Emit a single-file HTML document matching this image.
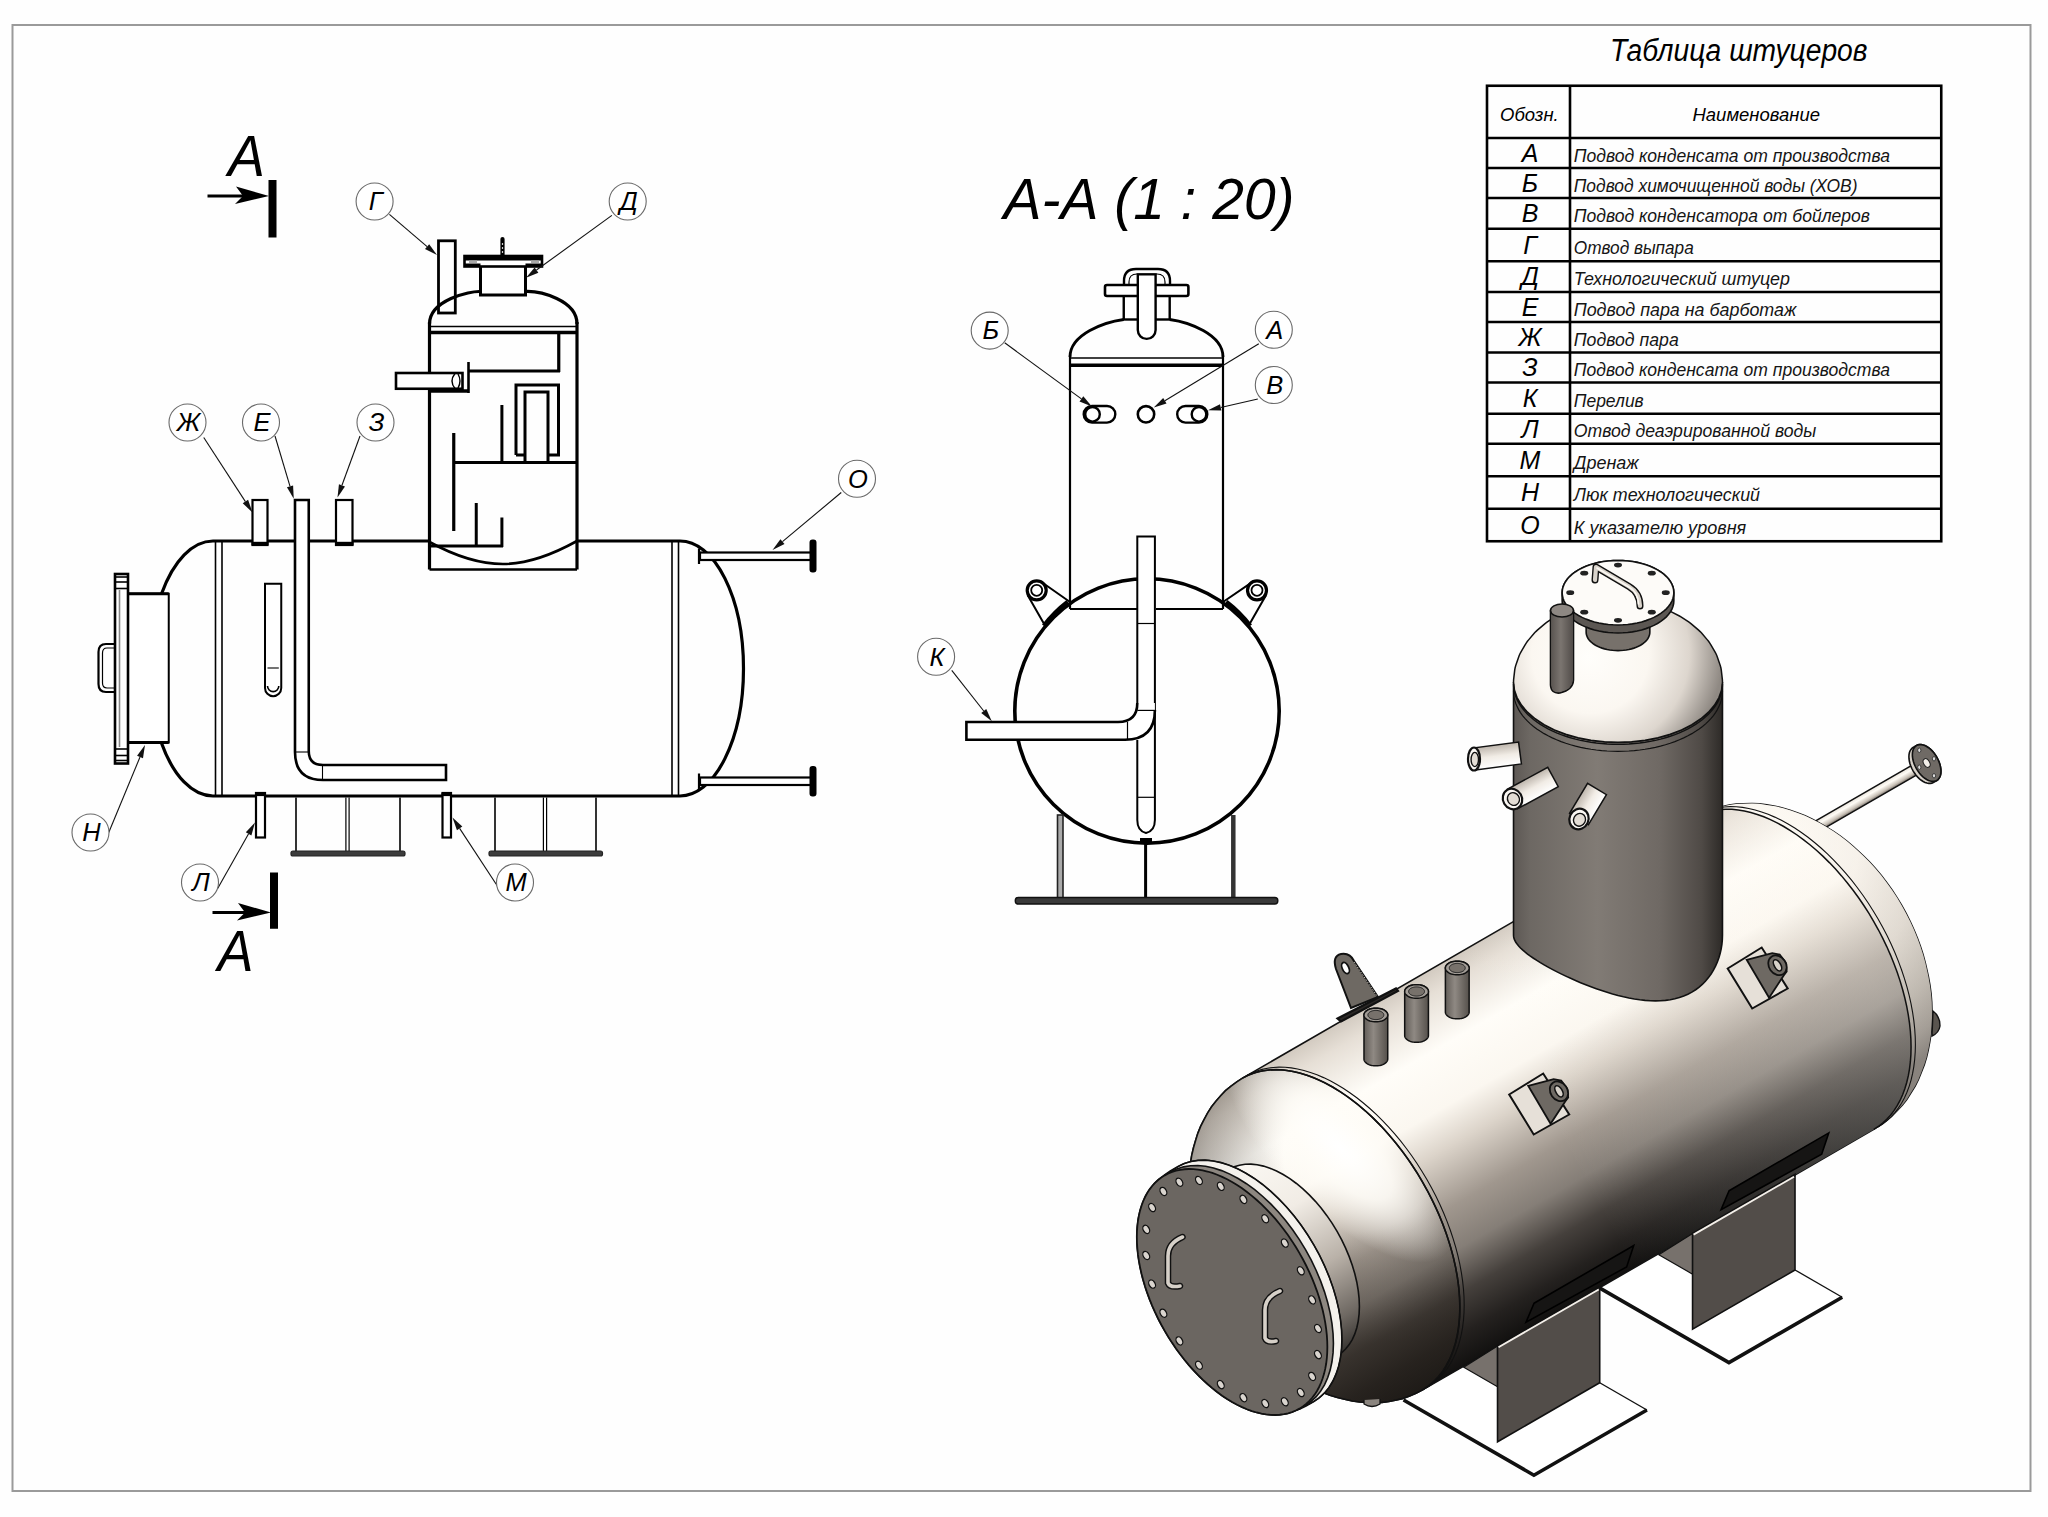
<!DOCTYPE html>
<html><head><meta charset="utf-8"><style>
html,body{margin:0;padding:0;background:#fff;}
svg{display:block;font-family:"Liberation Sans",sans-serif;}
</style></head><body>
<svg width="2048" height="1517" viewBox="0 0 2048 1517">
<rect x="0" y="0" width="2048" height="1517" fill="#fefefe"/>
<defs><linearGradient id="gpipe" gradientUnits="userSpaceOnUse" x1="1869.44" y1="789.91" x2="1874.74" y2="799.09"><stop offset="0" stop-color="#e9e4dc"/><stop offset="0.35" stop-color="#fffcf6"/><stop offset="0.75" stop-color="#c9c1b7"/><stop offset="1" stop-color="#756e67"/></linearGradient><linearGradient id="gv" gradientUnits="userSpaceOnUse" x1="1470.32" y1="946.62" x2="1650.32" y2="1258.38"><stop offset="0" stop-color="#d2cac0"/><stop offset="0.06" stop-color="#e6dfd6"/><stop offset="0.2" stop-color="#fffdf8"/><stop offset="0.35" stop-color="#fbf7f0"/><stop offset="0.45" stop-color="#dcd4ca"/><stop offset="0.6" stop-color="#a0978e"/><stop offset="0.71" stop-color="#857e77"/><stop offset="0.82" stop-color="#45403c"/><stop offset="0.92" stop-color="#24211f"/><stop offset="1" stop-color="#121110"/></linearGradient><radialGradient id="gfh" gradientUnits="userSpaceOnUse" cx="0" cy="0" r="1" gradientTransform="translate(1340 1148) rotate(45) scale(150 62)"><stop offset="0" stop-color="#fff" stop-opacity="1"/><stop offset="0.45" stop-color="#fffdf8" stop-opacity="0.85"/><stop offset="1" stop-color="#fffdf8" stop-opacity="0"/></radialGradient><radialGradient id="gfd" gradientUnits="userSpaceOnUse" cx="1360" cy="1155" r="190"><stop offset="0" stop-color="#2a241e" stop-opacity="0"/><stop offset="0.4" stop-color="#2a241e" stop-opacity="0"/><stop offset="0.8" stop-color="#2a241e" stop-opacity="0.3"/><stop offset="1" stop-color="#2a241e" stop-opacity="0.5"/></radialGradient><radialGradient id="gbh" gradientUnits="userSpaceOnUse" cx="1765" cy="845" r="265" ><stop offset="0" stop-color="#fffdf8"/><stop offset="0.35" stop-color="#f3eee7"/><stop offset="0.6" stop-color="#d3ccc3"/><stop offset="0.8" stop-color="#a39c93"/><stop offset="0.92" stop-color="#7d766f"/><stop offset="1" stop-color="#58524d"/></radialGradient><linearGradient id="gu" gradientUnits="userSpaceOnUse" x1="1543" y1="1112.5" x2="1846.11" y2="937.5"><stop offset="0" stop-color="#fffaf2" stop-opacity="0"/><stop offset="1" stop-color="#fffaf2" stop-opacity="0.3"/></linearGradient><linearGradient id="gc" gradientUnits="userSpaceOnUse" x1="1513.53" y1="0" x2="1722.47" y2="0"><stop offset="0" stop-color="#5d5854"/><stop offset="0.08" stop-color="#6d6863"/><stop offset="0.4" stop-color="#817b75"/><stop offset="0.7" stop-color="#6f6964"/><stop offset="0.9" stop-color="#4f4a46"/><stop offset="1" stop-color="#2d2a27"/></linearGradient><radialGradient id="gd" gradientUnits="userSpaceOnUse" cx="1593" cy="652" r="130" fx="1588" fy="657" ><stop offset="0" stop-color="#fffefb"/><stop offset="0.45" stop-color="#fbf7f1"/><stop offset="0.75" stop-color="#ddd6ce"/><stop offset="1" stop-color="#8f8983"/></radialGradient><linearGradient id="gg" gradientUnits="userSpaceOnUse" x1="1550" y1="0" x2="1574" y2="0"><stop offset="0" stop-color="#56514d"/><stop offset="0.45" stop-color="#7b7570"/><stop offset="1" stop-color="#4e4946"/></linearGradient><linearGradient id="gn1474" gradientUnits="userSpaceOnUse" x1="1475.42" y1="769.91" x2="1472.58" y2="748.09"><stop offset="0" stop-color="#ffffff"/><stop offset="0.5" stop-color="#f1ece5"/><stop offset="1" stop-color="#bdb5ac"/></linearGradient><linearGradient id="gn1512" gradientUnits="userSpaceOnUse" x1="1517.75" y1="808.67" x2="1507.25" y2="789.33"><stop offset="0" stop-color="#ffffff"/><stop offset="0.5" stop-color="#f1ece5"/><stop offset="1" stop-color="#bdb5ac"/></linearGradient><linearGradient id="gn1579" gradientUnits="userSpaceOnUse" x1="1588.43" y1="824.66" x2="1569.57" y2="813.34"><stop offset="0" stop-color="#ffffff"/><stop offset="0.5" stop-color="#f1ece5"/><stop offset="1" stop-color="#bdb5ac"/></linearGradient><linearGradient id="gtn587" gradientUnits="userSpaceOnUse" x1="1363.86" y1="0" x2="1387.86" y2="0"><stop offset="0" stop-color="#625d58"/><stop offset="0.4" stop-color="#8f8983"/><stop offset="1" stop-color="#55504b"/></linearGradient><linearGradient id="gtn634" gradientUnits="userSpaceOnUse" x1="1404.56" y1="0" x2="1428.56" y2="0"><stop offset="0" stop-color="#625d58"/><stop offset="0.4" stop-color="#8f8983"/><stop offset="1" stop-color="#55504b"/></linearGradient><linearGradient id="gtn681" gradientUnits="userSpaceOnUse" x1="1445.26" y1="0" x2="1469.26" y2="0"><stop offset="0" stop-color="#625d58"/><stop offset="0.4" stop-color="#8f8983"/><stop offset="1" stop-color="#55504b"/></linearGradient><linearGradient id="gneck" gradientUnits="userSpaceOnUse" x1="1210.87" y1="1177.24" x2="1320.87" y2="1367.76"><stop offset="0" stop-color="#fbf8f3"/><stop offset="0.3" stop-color="#f1ece5"/><stop offset="0.6" stop-color="#b9b1a8"/><stop offset="0.85" stop-color="#6e6862"/><stop offset="1" stop-color="#33302d"/></linearGradient></defs>
<rect x="12.5" y="25" width="2018" height="1466" stroke="#9a9a9a" stroke-width="2" fill="none" />
<line x1="213" y1="541" x2="429.5" y2="541" stroke="#000" stroke-width="3.2" />
<line x1="577" y1="541" x2="680" y2="541" stroke="#000" stroke-width="3.2" />
<line x1="213" y1="796" x2="680" y2="796" stroke="#000" stroke-width="3.2" />
<path d="M213,541 A63.5,127.5 0 0 0 161.65,593.5" stroke="#000" stroke-width="3.2" fill="none" />
<path d="M161.47,743 A63.5,127.5 0 0 0 213,796" stroke="#000" stroke-width="3.2" fill="none" />
<path d="M680,541 A63.5,127.5 0 0 1 680,796" stroke="#000" stroke-width="3.2" fill="none" />
<line x1="215.5" y1="541" x2="215.5" y2="796" stroke="#000" stroke-width="1.6" />
<line x1="222" y1="541" x2="222" y2="796" stroke="#000" stroke-width="1.6" />
<line x1="672" y1="541" x2="672" y2="796" stroke="#000" stroke-width="1.6" />
<line x1="678.5" y1="541" x2="678.5" y2="796" stroke="#000" stroke-width="1.6" />
<rect x="700" y="552.5" width="112" height="7.5" stroke="#000" stroke-width="2.2" fill="#fff" />
<rect x="811" y="541" width="4" height="30" stroke="#000" stroke-width="3" fill="#000" rx="1.5"/>
<line x1="699" y1="548.5" x2="699" y2="564" stroke="#000" stroke-width="2.2" />
<rect x="700" y="777.5" width="112" height="7.5" stroke="#000" stroke-width="2.2" fill="#fff" />
<rect x="811" y="767.5" width="4" height="27.5" stroke="#000" stroke-width="3" fill="#000" rx="1.5"/>
<line x1="699" y1="773.5" x2="699" y2="789" stroke="#000" stroke-width="2.2" />
<rect x="123.75" y="593.75" width="45" height="148.75" stroke="#000" stroke-width="2" fill="#fff" />
<line x1="123.75" y1="593.75" x2="168.75" y2="593.75" stroke="#000" stroke-width="3.2" />
<line x1="123.75" y1="742.5" x2="168.75" y2="742.5" stroke="#000" stroke-width="3.2" />
<rect x="115" y="574" width="13" height="189.5" stroke="#000" stroke-width="2.6" fill="#fff" />
<line x1="119.5" y1="590" x2="119.5" y2="747" stroke="#888" stroke-width="1.6" />
<line x1="115" y1="577" x2="128" y2="577" stroke="#000" stroke-width="1.6" />
<line x1="115" y1="582" x2="128" y2="582" stroke="#000" stroke-width="1.6" />
<line x1="115" y1="588.5" x2="128" y2="588.5" stroke="#000" stroke-width="1.6" />
<line x1="115" y1="749" x2="128" y2="749" stroke="#000" stroke-width="1.6" />
<line x1="115" y1="755.5" x2="128" y2="755.5" stroke="#000" stroke-width="1.6" />
<line x1="115" y1="760.5" x2="128" y2="760.5" stroke="#000" stroke-width="1.6" />
<path d="M115,644 L106,644 Q98.5,644 98.5,652 L98.5,684 Q98.5,692 106,692 L115,692" stroke="#000" stroke-width="2.2" fill="none" />
<path d="M115,648 L107,648 Q102.5,648 102.5,653 L102.5,683 Q102.5,688 107,688 L115,688" stroke="#000" stroke-width="1.2" fill="none" />
<rect x="252.5" y="500" width="15" height="45" stroke="#000" stroke-width="2.2" fill="#fff" />
<line x1="251.5" y1="543.5" x2="268.5" y2="543.5" stroke="#000" stroke-width="3.4" />
<rect x="336" y="500" width="16.5" height="45" stroke="#000" stroke-width="2.2" fill="#fff" />
<line x1="335" y1="543.5" x2="353.5" y2="543.5" stroke="#000" stroke-width="3.4" />
<path d="M295,500 L295,752 Q295,780 323,780 L446,780 L446,765 L323,765 Q308.75,765 308.75,751 L308.75,500 Z" stroke="#000" stroke-width="2.6" fill="#fff" />
<line x1="295" y1="752" x2="308.75" y2="752" stroke="#000" stroke-width="1.1" />
<line x1="322.5" y1="765" x2="322.5" y2="780" stroke="#000" stroke-width="1.1" />
<path d="M265,583.75 L281.25,583.75 L281.25,688 A8.1,8.1 0 0 1 265,688 Z" stroke="#000" stroke-width="2.0" fill="#fff" />
<line x1="267.5" y1="668" x2="278.8" y2="668" stroke="#000" stroke-width="1.1" />
<path d="M267.5,686 A5.6,5.6 0 0 0 278.8,686" stroke="#000" stroke-width="1.6" fill="none" />
<rect x="256" y="793" width="9" height="44.5" stroke="#000" stroke-width="2.2" fill="#fff" />
<line x1="255" y1="794.5" x2="266" y2="794.5" stroke="#000" stroke-width="3.2" />
<rect x="442.5" y="793" width="8.5" height="44.5" stroke="#000" stroke-width="2.2" fill="#fff" />
<line x1="441.5" y1="794.5" x2="452" y2="794.5" stroke="#000" stroke-width="3.2" />
<line x1="296" y1="797.5" x2="296" y2="851" stroke="#000" stroke-width="1.6" />
<line x1="400" y1="797.5" x2="400" y2="851" stroke="#000" stroke-width="1.6" />
<line x1="345.9" y1="797.5" x2="345.9" y2="851" stroke="#000" stroke-width="1.2" />
<line x1="349.1" y1="797.5" x2="349.1" y2="851" stroke="#000" stroke-width="1.2" />
<rect x="291" y="851" width="114" height="5" stroke="#222" stroke-width="1.2" fill="#3c3c3c" rx="2"/>
<line x1="495" y1="797.5" x2="495" y2="851" stroke="#000" stroke-width="1.6" />
<line x1="596" y1="797.5" x2="596" y2="851" stroke="#000" stroke-width="1.6" />
<line x1="543.4" y1="797.5" x2="543.4" y2="851" stroke="#000" stroke-width="1.2" />
<line x1="546.6" y1="797.5" x2="546.6" y2="851" stroke="#000" stroke-width="1.2" />
<rect x="489" y="851" width="113.5" height="5" stroke="#222" stroke-width="1.2" fill="#3c3c3c" rx="2"/>
<path d="M429.5,324 C429.5,300 470,291 480,291.5" stroke="#000" stroke-width="3.2" fill="none" />
<path d="M525.6,291.5 C540,291 577,300 577,324" stroke="#000" stroke-width="3.2" fill="none" />
<line x1="429.5" y1="322" x2="429.5" y2="569.5" stroke="#000" stroke-width="3.2" />
<line x1="577" y1="322" x2="577" y2="569.5" stroke="#000" stroke-width="3.2" />
<line x1="429.5" y1="326.5" x2="577" y2="326.5" stroke="#000" stroke-width="1.6" />
<line x1="429.5" y1="332.5" x2="577" y2="332.5" stroke="#000" stroke-width="3.4" />
<line x1="429.5" y1="569.5" x2="577" y2="569.5" stroke="#000" stroke-width="2.4" />
<path d="M429.5,542 C455,556 480,564 503,564 C526,564 550,556 577,541" stroke="#000" stroke-width="2.6" fill="none" />
<line x1="558.75" y1="332.5" x2="558.75" y2="372" stroke="#000" stroke-width="3.2" />
<line x1="468.5" y1="371" x2="560" y2="371" stroke="#000" stroke-width="3.2" />
<line x1="468.5" y1="362" x2="468.5" y2="393" stroke="#000" stroke-width="2.6" />
<rect x="396" y="373" width="66.5" height="15.75" stroke="#000" stroke-width="2.6" fill="#fff" />
<path d="M455,373.5 Q449,381 455,388.5" stroke="#000" stroke-width="1.4" fill="none" />
<path d="M458,374 Q462,381 458,388" stroke="#000" stroke-width="1.4" fill="none" />
<line x1="430" y1="391" x2="468.5" y2="391" stroke="#000" stroke-width="3.6" />
<line x1="453.75" y1="433" x2="453.75" y2="531" stroke="#000" stroke-width="3.2" />
<line x1="453.75" y1="462.5" x2="577" y2="462.5" stroke="#000" stroke-width="3.2" />
<line x1="501.9" y1="405" x2="501.9" y2="462.5" stroke="#000" stroke-width="3.0" />
<path d="M516,455 L516,385 L558.5,385 L558.5,455 L548,455" stroke="#000" stroke-width="3.0" fill="none" />
<path d="M516,455 L525,455" stroke="#000" stroke-width="3.0" fill="none" />
<path d="M525,462.5 L525,392 L548,392 L548,462.5" stroke="#000" stroke-width="3.0" fill="none" />
<line x1="476.25" y1="503" x2="476.25" y2="545" stroke="#000" stroke-width="3.0" />
<line x1="501.9" y1="517.5" x2="501.9" y2="547" stroke="#000" stroke-width="3.0" />
<line x1="430" y1="546" x2="503" y2="546" stroke="#000" stroke-width="3.0" />
<rect x="438.5" y="240.8" width="16.8" height="72.2" stroke="#000" stroke-width="2.8" fill="none" />
<rect x="480.5" y="262" width="45" height="33" stroke="#000" stroke-width="3.0" fill="#fff" />
<rect x="464.5" y="256" width="77.5" height="10.5" stroke="#000" stroke-width="2.6" fill="#fff" />
<rect x="464.5" y="255" width="77.5" height="5.5" stroke="#000" stroke-width="0" fill="#000" />
<rect x="464.5" y="263.5" width="16" height="3" stroke="#000" stroke-width="0" fill="#000" />
<rect x="525.5" y="263.5" width="16.5" height="3" stroke="#000" stroke-width="0" fill="#000" />
<rect x="469" y="260.5" width="8" height="2.5" stroke="#000" stroke-width="0" fill="#aaa" />
<rect x="531" y="260.5" width="8" height="2.5" stroke="#000" stroke-width="0" fill="#aaa" />
<line x1="502.5" y1="239" x2="502.5" y2="256" stroke="#000" stroke-width="4.2" stroke-linecap="round"/>
<line x1="502.5" y1="243" x2="502.5" y2="253" stroke="#ccc" stroke-width="1.2" stroke-dasharray="2,2"/>
<rect x="268.5" y="180" width="8" height="57.5" stroke="#000" stroke-width="0" fill="#000" />
<line x1="207.5" y1="196" x2="255" y2="196" stroke="#000" stroke-width="3.2" />
<path d="M269,196 L236,186.5 L243,196 L235,204 Z" fill="#000"/>
<text x="246.5" y="175.5" font-size="58" font-style="italic" text-anchor="middle" fill="#000" textLength="37" lengthAdjust="spacingAndGlyphs" >А</text>
<rect x="270" y="872.5" width="8" height="56.25" stroke="#000" stroke-width="0" fill="#000" />
<line x1="212.5" y1="912.5" x2="258" y2="912.5" stroke="#000" stroke-width="3.2" />
<path d="M271,912.5 L238,903 L245,912.5 L237,920.5 Z" fill="#000"/>
<text x="235.5" y="970.5" font-size="58" font-style="italic" text-anchor="middle" fill="#000" textLength="36" lengthAdjust="spacingAndGlyphs" >А</text>
<line x1="389.4" y1="214.4" x2="427.11" y2="246.56" stroke="#111" stroke-width="1.1" />
<path d="M437,255 L425.03,249 L429.19,244.13 Z" fill="#111"/>
<line x1="611.9" y1="215.4" x2="536.52" y2="270.07" stroke="#111" stroke-width="1.1" />
<path d="M526,277.7 L534.64,267.48 L538.4,272.66 Z" fill="#111"/>
<line x1="203.75" y1="437.5" x2="245.42" y2="501.6" stroke="#111" stroke-width="1.1" />
<path d="M252.5,512.5 L242.73,503.34 L248.1,499.86 Z" fill="#111"/>
<line x1="275" y1="436" x2="290.03" y2="486.29" stroke="#111" stroke-width="1.1" />
<path d="M293.75,498.75 L286.96,487.21 L293.09,485.38 Z" fill="#111"/>
<line x1="360" y1="436" x2="341.97" y2="485.29" stroke="#111" stroke-width="1.1" />
<path d="M337.5,497.5 L338.96,484.19 L344.97,486.39 Z" fill="#111"/>
<line x1="841.25" y1="492.5" x2="782.47" y2="541.66" stroke="#111" stroke-width="1.1" />
<path d="M772.5,550 L780.42,539.21 L784.52,544.11 Z" fill="#111"/>
<line x1="108.75" y1="832.5" x2="140.02" y2="757.01" stroke="#111" stroke-width="1.1" />
<path d="M145,745 L142.98,758.23 L137.07,755.79 Z" fill="#111"/>
<line x1="217.5" y1="888.75" x2="248.6" y2="833.81" stroke="#111" stroke-width="1.1" />
<path d="M255,822.5 L251.38,835.39 L245.81,832.24 Z" fill="#111"/>
<line x1="500" y1="890" x2="459.62" y2="828.37" stroke="#111" stroke-width="1.1" />
<path d="M452.5,817.5 L462.3,826.62 L456.95,830.13 Z" fill="#111"/>
<circle cx="374.6" cy="201.5" r="18.5" stroke="#6a6a6a" stroke-width="1.1" fill="#fff" />
<text x="375.6" y="210.3" font-size="25.5" font-style="italic" text-anchor="middle" fill="#000" >Г</text>
<circle cx="627.7" cy="201.5" r="18.5" stroke="#6a6a6a" stroke-width="1.1" fill="#fff" />
<text x="628.7" y="210.3" font-size="25.5" font-style="italic" text-anchor="middle" fill="#000" >Д</text>
<circle cx="187.5" cy="422.5" r="18.5" stroke="#6a6a6a" stroke-width="1.1" fill="#fff" />
<text x="188.5" y="431.3" font-size="25.5" font-style="italic" text-anchor="middle" fill="#000" >Ж</text>
<circle cx="261" cy="422.5" r="18.5" stroke="#6a6a6a" stroke-width="1.1" fill="#fff" />
<text x="262" y="431.3" font-size="25.5" font-style="italic" text-anchor="middle" fill="#000" >Е</text>
<circle cx="375.5" cy="422.5" r="18.5" stroke="#6a6a6a" stroke-width="1.1" fill="#fff" />
<text x="376.5" y="431.3" font-size="25.5" font-style="italic" text-anchor="middle" fill="#000" >З</text>
<circle cx="857" cy="478.75" r="18.5" stroke="#6a6a6a" stroke-width="1.1" fill="#fff" />
<text x="858" y="487.55" font-size="25.5" font-style="italic" text-anchor="middle" fill="#000" >О</text>
<circle cx="90.5" cy="832.5" r="18.5" stroke="#6a6a6a" stroke-width="1.1" fill="#fff" />
<text x="91.5" y="841.3" font-size="25.5" font-style="italic" text-anchor="middle" fill="#000" >Н</text>
<circle cx="200" cy="882.5" r="18.5" stroke="#6a6a6a" stroke-width="1.1" fill="#fff" />
<text x="201" y="891.3" font-size="25.5" font-style="italic" text-anchor="middle" fill="#000" >Л</text>
<circle cx="515" cy="882.5" r="18.5" stroke="#6a6a6a" stroke-width="1.1" fill="#fff" />
<text x="516" y="891.3" font-size="25.5" font-style="italic" text-anchor="middle" fill="#000" >М</text>
<text x="1149" y="219" font-size="58" font-style="italic" text-anchor="middle" fill="#000" textLength="291" lengthAdjust="spacingAndGlyphs" >А-А (1 : 20)</text>
<line x1="1070" y1="355" x2="1070" y2="609" stroke="#000" stroke-width="2.2" />
<line x1="1223" y1="355" x2="1223" y2="609" stroke="#000" stroke-width="2.2" />
<path d="M1070,357 C1070,334 1105,322 1123.75,319.5" stroke="#000" stroke-width="2.8" fill="none" />
<path d="M1169.7,319.5 C1188,322 1223,334 1223,357" stroke="#000" stroke-width="2.8" fill="none" />
<line x1="1070" y1="358" x2="1223" y2="358" stroke="#000" stroke-width="1.6" />
<line x1="1070" y1="365.3" x2="1223" y2="365.3" stroke="#000" stroke-width="3.4" />
<line x1="1070" y1="609" x2="1137" y2="609" stroke="#000" stroke-width="2.0" />
<line x1="1156" y1="609" x2="1223" y2="609" stroke="#000" stroke-width="2.0" />
<rect x="1123.75" y="295" width="45.95" height="24.5" stroke="#000" stroke-width="2.4" fill="#fff" />
<rect x="1105" y="285" width="83.4" height="11" stroke="#000" stroke-width="2.6" fill="#fff" rx="2"/>
<path d="M1124,285 L1124,281 Q1124,269 1136,269 L1158,269 Q1170,269 1170,281 L1170,285" stroke="#000" stroke-width="2.4" fill="none" />
<path d="M1129,285 L1129,282 Q1129,274 1137,274 L1157,274 Q1165,274 1165,282 L1165,285" stroke="#000" stroke-width="1.2" fill="none" />
<path d="M1137.8,274.4 L1137.8,330 A8.9,8.9 0 0 0 1155.6,330 L1155.6,274.4 Z" stroke="#000" stroke-width="2.4" fill="#fff" />
<path d="M1092,406 L1107,406 A8.3,8.3 0 0 1 1107,422.6 L1092,422.6 A8.3,8.3 0 0 1 1092,406 Z" stroke="#000" stroke-width="2.4" fill="#fff" />
<circle cx="1092.5" cy="414.3" r="7.3" stroke="#000" stroke-width="2.4" fill="none" />
<circle cx="1146" cy="414.3" r="8.2" stroke="#000" stroke-width="2.6" fill="#fff" />
<path d="M1185.5,406 L1199,406 A8.3,8.3 0 0 1 1199,422.6 L1185.5,422.6 A8.3,8.3 0 0 1 1185.5,406 Z" stroke="#000" stroke-width="2.4" fill="#fff" />
<circle cx="1199" cy="414.3" r="7.3" stroke="#000" stroke-width="2.4" fill="none" />
<circle cx="1147" cy="711" r="132.2" stroke="#000" stroke-width="3.6" fill="none" />
<rect x="1057.5" y="815" width="5.5" height="83" stroke="#222" stroke-width="1.6" fill="#aaa" />
<line x1="1233.3" y1="815" x2="1233.3" y2="898" stroke="#333" stroke-width="4.5" />
<line x1="1145.6" y1="843" x2="1145.6" y2="898" stroke="#000" stroke-width="3" />
<rect x="1015.3" y="897.5" width="262.5" height="6.5" stroke="#111" stroke-width="1.4" fill="#3a3a3a" rx="3"/>
<rect x="1140" y="838" width="12" height="6" stroke="#000" stroke-width="0" fill="#000" />
<path d="M1039.7,580.8 L1070,602 M1027.7,595.3 L1043.7,623.3" stroke="#000" stroke-width="2" fill="none"/>
<circle cx="1036.7" cy="590.3" r="9.5" stroke="#000" stroke-width="3.2" fill="#fff" />
<circle cx="1036.7" cy="590.3" r="5.5" stroke="#000" stroke-width="1.8" fill="none" />
<path d="M1037,628.3" />
<path d="M1254,580.8 L1223,602 M1266,595.3 L1250,623.3" stroke="#000" stroke-width="2" fill="none"/>
<circle cx="1257" cy="590.3" r="9.5" stroke="#000" stroke-width="3.2" fill="#fff" />
<circle cx="1257" cy="590.3" r="5.5" stroke="#000" stroke-width="1.8" fill="none" />
<path d="M1257,628.3" />
<path d="M1044,626 A132.2,132.2 0 0 1 1068,602" stroke="#000" stroke-width="5" fill="none" />
<path d="M1226,602 A132.2,132.2 0 0 1 1250,626" stroke="#000" stroke-width="5" fill="none" />
<path d="M1137.3,536.6 L1154.9,536.6 L1154.9,820 Q1154.9,831 1146,833 Q1137.3,831 1137.3,820 Z" fill="#fff" stroke="none"/>
<path d="M1137.3,703 L1137.3,536.6 L1154.9,536.6 L1154.9,820 Q1154.9,831 1146,833 Q1137.3,831 1137.3,820 L1137.3,740" stroke="#000" stroke-width="2.0" fill="none" />
<line x1="1137.3" y1="623.5" x2="1154.9" y2="623.5" stroke="#000" stroke-width="1.2" />
<line x1="1137.3" y1="797.3" x2="1154.9" y2="797.3" stroke="#000" stroke-width="1.2" />
<path d="M966.4,722 L1118,722 Q1137.3,722 1137.3,703 L1154.9,703 L1154.9,712 Q1154.9,739.7 1125,739.7 L966.4,739.7 Z" fill="#fff" stroke="none"/>
<path d="M1137.3,703 Q1137.3,722 1118,722 L966.4,722 L966.4,739.7 L1125,739.7 Q1154.9,739.7 1154.9,710" stroke="#000" stroke-width="2.6" fill="none" />
<line x1="1127.5" y1="722" x2="1127.5" y2="739.7" stroke="#000" stroke-width="1.2" />
<line x1="1137.3" y1="710.4" x2="1154.9" y2="710.4" stroke="#000" stroke-width="1.2" />
<line x1="1004.7" y1="342.8" x2="1081.41" y2="398.92" stroke="#111" stroke-width="1.1" />
<path d="M1091.9,406.6 L1079.52,401.51 L1083.3,396.34 Z" fill="#111"/>
<line x1="1258.8" y1="343.8" x2="1164.87" y2="400.76" stroke="#111" stroke-width="1.1" />
<path d="M1153.75,407.5 L1163.21,398.02 L1166.53,403.5 Z" fill="#111"/>
<line x1="1257.8" y1="399" x2="1220.68" y2="407.42" stroke="#111" stroke-width="1.1" />
<path d="M1208,410.3 L1219.97,404.3 L1221.39,410.54 Z" fill="#111"/>
<line x1="951.75" y1="670.4" x2="983.75" y2="710.99" stroke="#111" stroke-width="1.1" />
<path d="M991.8,721.2 L981.24,712.97 L986.26,709.01 Z" fill="#111"/>
<circle cx="989.7" cy="330.6" r="18.5" stroke="#6a6a6a" stroke-width="1.1" fill="#fff" />
<text x="990.7" y="339.4" font-size="25.5" font-style="italic" text-anchor="middle" fill="#000" >Б</text>
<circle cx="1273.8" cy="329.7" r="18.5" stroke="#6a6a6a" stroke-width="1.1" fill="#fff" />
<text x="1274.8" y="338.5" font-size="25.5" font-style="italic" text-anchor="middle" fill="#000" >А</text>
<circle cx="1273.8" cy="385" r="18.5" stroke="#6a6a6a" stroke-width="1.1" fill="#fff" />
<text x="1274.8" y="393.8" font-size="25.5" font-style="italic" text-anchor="middle" fill="#000" >В</text>
<circle cx="936.1" cy="656.7" r="18.5" stroke="#6a6a6a" stroke-width="1.1" fill="#fff" />
<text x="937.1" y="665.5" font-size="25.5" font-style="italic" text-anchor="middle" fill="#000" >К</text>
<text x="1738.75" y="61" font-size="31" font-style="italic" text-anchor="middle" fill="#000" textLength="257.5" lengthAdjust="spacingAndGlyphs" >Таблица штуцеров</text>
<rect x="1487" y="85.75" width="454.25" height="455.5" stroke="#000" stroke-width="2.6" fill="none" />
<line x1="1570" y1="85.75" x2="1570" y2="541.25" stroke="#000" stroke-width="2.6" />
<line x1="1487" y1="138" x2="1941.25" y2="138" stroke="#000" stroke-width="2.6" />
<line x1="1487" y1="168" x2="1941.25" y2="168" stroke="#000" stroke-width="2.6" />
<line x1="1487" y1="198" x2="1941.25" y2="198" stroke="#000" stroke-width="2.6" />
<line x1="1487" y1="228.75" x2="1941.25" y2="228.75" stroke="#000" stroke-width="2.6" />
<line x1="1487" y1="261.25" x2="1941.25" y2="261.25" stroke="#000" stroke-width="2.6" />
<line x1="1487" y1="292" x2="1941.25" y2="292" stroke="#000" stroke-width="2.6" />
<line x1="1487" y1="322" x2="1941.25" y2="322" stroke="#000" stroke-width="2.6" />
<line x1="1487" y1="352.5" x2="1941.25" y2="352.5" stroke="#000" stroke-width="2.6" />
<line x1="1487" y1="382.5" x2="1941.25" y2="382.5" stroke="#000" stroke-width="2.6" />
<line x1="1487" y1="413.75" x2="1941.25" y2="413.75" stroke="#000" stroke-width="2.6" />
<line x1="1487" y1="443.75" x2="1941.25" y2="443.75" stroke="#000" stroke-width="2.6" />
<line x1="1487" y1="476.25" x2="1941.25" y2="476.25" stroke="#000" stroke-width="2.6" />
<line x1="1487" y1="508.75" x2="1941.25" y2="508.75" stroke="#000" stroke-width="2.6" />
<text x="1529.4" y="121.25" font-size="18" font-style="italic" text-anchor="middle" fill="#000" textLength="58.75" lengthAdjust="spacingAndGlyphs" >Обозн.</text>
<text x="1756.25" y="120.5" font-size="18" font-style="italic" text-anchor="middle" fill="#000" textLength="127.5" lengthAdjust="spacingAndGlyphs" >Наименование</text>
<text x="1530" y="161.75" font-size="25" font-style="italic" text-anchor="middle" fill="#000" >А</text>
<text x="1573.75" y="161.5" font-size="17.5" font-style="italic" text-anchor="start" fill="#151515" textLength="316.25" lengthAdjust="spacingAndGlyphs" >Подвод конденсата от производства</text>
<text x="1530" y="191.75" font-size="25" font-style="italic" text-anchor="middle" fill="#000" >Б</text>
<text x="1573.75" y="191.5" font-size="17.5" font-style="italic" text-anchor="start" fill="#151515" textLength="283.75" lengthAdjust="spacingAndGlyphs" >Подвод химочищенной воды (ХОВ)</text>
<text x="1530" y="222.12" font-size="25" font-style="italic" text-anchor="middle" fill="#000" >В</text>
<text x="1573.75" y="221.88" font-size="17.5" font-style="italic" text-anchor="start" fill="#151515" textLength="296.25" lengthAdjust="spacingAndGlyphs" >Подвод конденсатора от бойлеров</text>
<text x="1530" y="253.75" font-size="25" font-style="italic" text-anchor="middle" fill="#000" >Г</text>
<text x="1573.75" y="253.5" font-size="17.5" font-style="italic" text-anchor="start" fill="#151515" textLength="120" lengthAdjust="spacingAndGlyphs" >Отвод выпара</text>
<text x="1530" y="285.38" font-size="25" font-style="italic" text-anchor="middle" fill="#000" >Д</text>
<text x="1573.75" y="285.12" font-size="17.5" font-style="italic" text-anchor="start" fill="#151515" textLength="216.25" lengthAdjust="spacingAndGlyphs" >Технологический штуцер</text>
<text x="1530" y="315.75" font-size="25" font-style="italic" text-anchor="middle" fill="#000" >Е</text>
<text x="1573.75" y="315.5" font-size="17.5" font-style="italic" text-anchor="start" fill="#151515" textLength="222.5" lengthAdjust="spacingAndGlyphs" >Подвод пара на барботаж</text>
<text x="1530" y="346" font-size="25" font-style="italic" text-anchor="middle" fill="#000" >Ж</text>
<text x="1573.75" y="345.75" font-size="17.5" font-style="italic" text-anchor="start" fill="#151515" textLength="105" lengthAdjust="spacingAndGlyphs" >Подвод пара</text>
<text x="1530" y="376.25" font-size="25" font-style="italic" text-anchor="middle" fill="#000" >З</text>
<text x="1573.75" y="376" font-size="17.5" font-style="italic" text-anchor="start" fill="#151515" textLength="316.25" lengthAdjust="spacingAndGlyphs" >Подвод конденсата от производства</text>
<text x="1530" y="406.88" font-size="25" font-style="italic" text-anchor="middle" fill="#000" >К</text>
<text x="1573.75" y="406.62" font-size="17.5" font-style="italic" text-anchor="start" fill="#151515" textLength="70" lengthAdjust="spacingAndGlyphs" >Перелив</text>
<text x="1530" y="437.5" font-size="25" font-style="italic" text-anchor="middle" fill="#000" >Л</text>
<text x="1573.75" y="437.25" font-size="17.5" font-style="italic" text-anchor="start" fill="#151515" textLength="242.5" lengthAdjust="spacingAndGlyphs" >Отвод деаэрированной воды</text>
<text x="1530" y="468.75" font-size="25" font-style="italic" text-anchor="middle" fill="#000" >М</text>
<text x="1573.75" y="468.5" font-size="17.5" font-style="italic" text-anchor="start" fill="#151515" textLength="65" lengthAdjust="spacingAndGlyphs" >Дренаж</text>
<text x="1530" y="501.25" font-size="25" font-style="italic" text-anchor="middle" fill="#000" >Н</text>
<text x="1573.75" y="501" font-size="17.5" font-style="italic" text-anchor="start" fill="#151515" textLength="186.25" lengthAdjust="spacingAndGlyphs" >Люк технологический</text>
<text x="1530" y="533.75" font-size="25" font-style="italic" text-anchor="middle" fill="#000" >О</text>
<text x="1573.75" y="533.5" font-size="17.5" font-style="italic" text-anchor="start" fill="#151515" textLength="172.5" lengthAdjust="spacingAndGlyphs" >К указателю уровня</text>
<path d="M1403.57,1400 L1533.91,1475.25 L1646.92,1410 L1516.59,1334.75 Z" fill="#fff" stroke="none"/>
<path d="M1403.57,1400 L1533.91,1475.25 L1646.92,1410" fill="none" stroke="#111" stroke-width="3.6"/>
<path d="M1599.72,1382.75 L1646.92,1410" fill="none" stroke="#111" stroke-width="1.4"/>
<path d="M1598.6,1287.4 L1728.94,1362.65 L1842.21,1297.25 L1711.87,1222 Z" fill="#fff" stroke="none"/>
<path d="M1598.6,1287.4 L1728.94,1362.65 L1842.21,1297.25" fill="none" stroke="#111" stroke-width="3.6"/>
<path d="M1795.01,1270 L1842.21,1297.25" fill="none" stroke="#111" stroke-width="1.4"/>
<path d="M1807.66,827.3 L1807.69,826.74 L1807.79,826.24 L1807.95,825.78 L1808.17,825.39 L1808.44,825.08 L1808.77,824.83 L1920.49,760.33 L1920.87,760.17 L1921.28,760.09 L1921.73,760.09 L1922.2,760.18 L1922.69,760.35 L1923.18,760.6 L1923.68,760.92 L1924.17,761.32 L1924.64,761.78 L1925.09,762.29 L1925.5,762.85 L1925.88,763.44 L1926.21,764.07 L1926.48,764.71 L1926.71,765.35 L1926.87,765.99 L1926.96,766.61 L1927,767.2 L1926.96,767.76 L1926.87,768.26 L1926.71,768.72 L1926.48,769.11 L1926.21,769.42 L1925.88,769.67 L1814.16,834.17 L1813.79,834.33 L1813.37,834.41 L1812.93,834.41 L1812.45,834.32 L1811.97,834.15 L1811.47,833.9 L1810.97,833.58 L1810.48,833.18 L1810.01,832.72 L1809.56,832.21 L1809.15,831.65 L1808.77,831.06 L1808.44,830.43 L1808.17,829.79 L1807.95,829.15 L1807.79,828.51 L1807.69,827.89 Z" fill="url(#gpipe)" stroke="#111" stroke-width="1.5"/>
<path d="M1908.9,756.75 L1909.02,754.67 L1909.38,752.76 L1909.98,751.06 L1910.81,749.61 L1911.85,748.41 L1913.08,747.5 L1916.54,745.5 L1917.95,744.89 L1919.5,744.59 L1921.18,744.6 L1922.95,744.93 L1924.78,745.56 L1926.65,746.5 L1928.51,747.72 L1930.35,749.2 L1932.12,750.91 L1933.79,752.84 L1935.35,754.93 L1936.75,757.17 L1937.99,759.5 L1939.02,761.89 L1939.85,764.31 L1940.45,766.7 L1940.82,769.03 L1940.94,771.25 L1940.82,773.33 L1940.45,775.24 L1939.85,776.94 L1939.02,778.39 L1937.99,779.59 L1936.75,780.5 L1933.29,782.5 L1931.88,783.11 L1930.33,783.41 L1928.65,783.4 L1926.88,783.07 L1925.05,782.44 L1923.18,781.5 L1921.32,780.28 L1919.49,778.8 L1917.72,777.09 L1916.04,775.16 L1914.49,773.07 L1913.08,770.83 L1911.85,768.5 L1910.81,766.11 L1909.98,763.69 L1909.38,761.3 L1909.02,758.97 Z" fill="#d8d2ca" stroke="#111" stroke-width="1.6"/>
<path d="M1912.36,754.75 L1912.48,752.67 L1912.85,750.76 L1913.45,749.06 L1914.27,747.61 L1915.31,746.41 L1916.54,745.5 L1917.95,744.89 L1919.5,744.59 L1921.18,744.6 L1922.95,744.93 L1924.78,745.56 L1926.65,746.5 L1928.51,747.72 L1930.35,749.2 L1932.12,750.91 L1933.79,752.84 L1935.35,754.93 L1936.75,757.17 L1937.99,759.5 L1939.02,761.89 L1939.85,764.31 L1940.45,766.7 L1940.82,769.03 L1940.94,771.25 L1940.82,773.33 L1940.45,775.24 L1939.85,776.94 L1939.02,778.39 L1937.99,779.59 L1936.75,780.5 L1935.35,781.11 L1933.79,781.41 L1932.12,781.4 L1930.35,781.07 L1928.51,780.44 L1926.65,779.5 L1924.78,778.28 L1922.95,776.8 L1921.18,775.09 L1919.5,773.16 L1917.95,771.07 L1916.54,768.83 L1915.31,766.5 L1914.27,764.11 L1913.45,761.69 L1912.85,759.3 L1912.48,756.97 Z" fill="#6f6a65" stroke="#111" stroke-width="1.6"/>
<ellipse cx="1919.3" cy="750.27" rx="1.6" ry="2.2" fill="#ddd" stroke="#222" stroke-width="0.8"/>
<ellipse cx="1934" cy="758.76" rx="1.6" ry="2.2" fill="#ddd" stroke="#222" stroke-width="0.8"/>
<ellipse cx="1934" cy="775.73" rx="1.6" ry="2.2" fill="#ddd" stroke="#222" stroke-width="0.8"/>
<ellipse cx="1919.3" cy="767.24" rx="1.6" ry="2.2" fill="#ddd" stroke="#222" stroke-width="0.8"/>
<ellipse cx="1926.65" cy="763" rx="3" ry="4.6" transform="rotate(-30 1926.65 763)" fill="#f3efe9" stroke="#222" stroke-width="1"/>
<path d="M1188.85,1187.33 L1189.09,1178.99 L1189.67,1172.09 L1190.43,1163.68 L1191.68,1155.64 L1193.43,1147.99 L1195.53,1140.83 L1197.84,1133.36 L1200.65,1126.36 L1203.94,1119.88 L1207.56,1113.09 L1211.41,1106.99 L1215.73,1101.47 L1220.68,1095.68 L1225.51,1090.69 L1230.77,1086.32 L1236.84,1081.82 L1242.54,1078.08 L1693.74,817.58 L1699.82,814.52 L1707.69,810.97 L1714.1,808.6 L1720.84,806.91 L1729.25,804.99 L1736.19,804.01 L1743.4,803.73 L1752,803.46 L1759.26,803.85 L1766.72,804.91 L1775.11,806.23 L1782.48,807.9 L1789.97,810.21 L1797.78,812.96 L1805.03,815.76 L1812.34,819.15 L1819.68,823.12 L1826.1,826.83 L1833.02,831.09 L1839.91,835.85 L1846.75,841.1 L1853.49,846.81 L1857.57,850.53 L1863.73,856.25 L1869.76,862.35 L1875.63,868.8 L1881.31,875.59 L1886.78,882.67 L1892.01,890.02 L1896.99,897.61 L1901.69,905.41 L1906.09,913.38 L1910.17,921.49 L1913.93,929.7 L1917.33,937.97 L1920.36,946.29 L1923.02,954.59 L1925.29,962.86 L1927.16,971.06 L1928.34,976.45 L1929.91,985.15 L1931.04,993.69 L1931.72,1002.04 L1931.95,1010.17 L1931.95,1017.58 L1931.71,1025.92 L1930.99,1033.95 L1929.8,1041.63 L1928.27,1049.76 L1926.53,1057.4 L1924.29,1064.62 L1921.24,1072.55 L1918.43,1079.54 L1915.14,1086.03 L1910.61,1093.34 L1906.75,1099.43 L1902.44,1104.95 L1896.57,1111.28 L1891.74,1116.27 L1886.48,1120.64 L1879.47,1125.68 L1873.77,1129.42 L1422.57,1389.92 L1416.49,1392.98 L1409.55,1395.99 L1403.15,1398.36 L1396.41,1400.05 L1388.91,1401.44 L1381.98,1402.41 L1374.77,1402.7 L1367.08,1402.45 L1359.82,1402.05 L1352.36,1400.99 L1344.73,1399.26 L1337.48,1397.49 L1329.98,1395.18 L1322.39,1392.25 L1314.73,1388.69 L1308.46,1385.75 L1301.12,1381.79 L1293.78,1377.27 L1286.47,1372.22 L1281.69,1368.59 L1274.86,1363.34 L1268.11,1357.63 L1261.48,1351.48 L1255,1344.92 L1248.69,1337.98 L1242.58,1330.68 L1236.7,1323.06 L1231.07,1315.15 L1225.72,1306.99 L1220.66,1298.6 L1216.26,1290.63 L1215.93,1290.03 L1211.53,1281.31 L1207.5,1272.48 L1203.84,1263.58 L1200.57,1254.64 L1197.71,1245.7 L1195.27,1236.81 L1193.26,1227.99 L1191.69,1219.3 L1190.56,1210.75 L1189.81,1204.8 L1189.09,1195.95 Z" fill="url(#gv)" stroke="#111" stroke-width="1.6"/>
<path d="M1188.85,1187.33 L1189.09,1178.99 L1189.67,1172.09 L1190.43,1163.68 L1191.68,1155.64 L1193.43,1147.99 L1195.53,1140.83 L1197.84,1133.36 L1200.65,1126.36 L1203.94,1119.88 L1207.56,1113.09 L1211.41,1106.99 L1215.73,1101.47 L1220.68,1095.68 L1225.51,1090.69 L1230.77,1086.32 L1236.84,1081.82 L1242.54,1078.08 L1248.62,1075.02 L1255.06,1072.63 L1261.83,1070.94 L1268.9,1069.94 L1276.25,1069.65 L1283.84,1070.06 L1291.63,1071.18 L1299.61,1072.99 L1307.72,1075.49 L1315.94,1078.66 L1324.23,1082.51 L1332.56,1087 L1340.88,1092.12 L1349.17,1097.85 L1357.39,1104.16 L1365.5,1111.03 L1373.48,1118.43 L1381.27,1126.32 L1388.86,1134.67 L1396.21,1143.44 L1403.28,1152.61 L1410.05,1162.12 L1416.49,1171.94 L1422.57,1182.03 L1428.27,1192.34 L1433.55,1202.82 L1438.41,1213.44 L1442.81,1224.15 L1446.73,1234.9 L1450.17,1245.65 L1453.11,1256.35 L1455.52,1266.95 L1457.42,1277.41 L1458.77,1287.68 L1459.59,1297.73 L1459.86,1307.5 L1459.59,1316.96 L1458.77,1326.06 L1457.42,1334.77 L1455.52,1343.04 L1453.11,1350.85 L1450.17,1358.16 L1446.73,1364.94 L1442.81,1371.15 L1438.41,1376.78 L1433.55,1381.8 L1428.27,1386.18 L1422.57,1389.92 L1416.49,1392.98 L1409.55,1395.99 L1403.15,1398.36 L1396.41,1400.05 L1388.91,1401.44 L1381.98,1402.41 L1374.77,1402.7 L1367.08,1402.45 L1359.82,1402.05 L1352.36,1400.99 L1344.73,1399.26 L1337.48,1397.49 L1329.98,1395.18 L1322.39,1392.25 L1314.73,1388.69 L1308.46,1385.75 L1301.12,1381.79 L1293.78,1377.27 L1286.47,1372.22 L1281.69,1368.59 L1274.86,1363.34 L1268.11,1357.63 L1261.48,1351.48 L1255,1344.92 L1248.69,1337.98 L1242.58,1330.68 L1236.7,1323.06 L1231.07,1315.15 L1225.72,1306.99 L1220.66,1298.6 L1216.26,1290.63 L1215.93,1290.03 L1211.53,1281.31 L1207.5,1272.48 L1203.84,1263.58 L1200.57,1254.64 L1197.71,1245.7 L1195.27,1236.81 L1193.26,1227.99 L1191.69,1219.3 L1190.56,1210.75 L1189.81,1204.8 L1189.09,1195.95 Z" fill="url(#gv)" stroke="none"/>
<path d="M1188.85,1187.33 L1189.09,1178.99 L1189.67,1172.09 L1190.43,1163.68 L1191.68,1155.64 L1193.43,1147.99 L1195.53,1140.83 L1197.84,1133.36 L1200.65,1126.36 L1203.94,1119.88 L1207.56,1113.09 L1211.41,1106.99 L1215.73,1101.47 L1220.68,1095.68 L1225.51,1090.69 L1230.77,1086.32 L1236.84,1081.82 L1242.54,1078.08 L1248.62,1075.02 L1255.06,1072.63 L1261.83,1070.94 L1268.9,1069.94 L1276.25,1069.65 L1283.84,1070.06 L1291.63,1071.18 L1299.61,1072.99 L1307.72,1075.49 L1315.94,1078.66 L1324.23,1082.51 L1332.56,1087 L1340.88,1092.12 L1349.17,1097.85 L1357.39,1104.16 L1365.5,1111.03 L1373.48,1118.43 L1381.27,1126.32 L1388.86,1134.67 L1396.21,1143.44 L1403.28,1152.61 L1410.05,1162.12 L1416.49,1171.94 L1422.57,1182.03 L1428.27,1192.34 L1433.55,1202.82 L1438.41,1213.44 L1442.81,1224.15 L1446.73,1234.9 L1450.17,1245.65 L1453.11,1256.35 L1455.52,1266.95 L1457.42,1277.41 L1458.77,1287.68 L1459.59,1297.73 L1459.86,1307.5 L1459.59,1316.96 L1458.77,1326.06 L1457.42,1334.77 L1455.52,1343.04 L1453.11,1350.85 L1450.17,1358.16 L1446.73,1364.94 L1442.81,1371.15 L1438.41,1376.78 L1433.55,1381.8 L1428.27,1386.18 L1422.57,1389.92 L1416.49,1392.98 L1409.55,1395.99 L1403.15,1398.36 L1396.41,1400.05 L1388.91,1401.44 L1381.98,1402.41 L1374.77,1402.7 L1367.08,1402.45 L1359.82,1402.05 L1352.36,1400.99 L1344.73,1399.26 L1337.48,1397.49 L1329.98,1395.18 L1322.39,1392.25 L1314.73,1388.69 L1308.46,1385.75 L1301.12,1381.79 L1293.78,1377.27 L1286.47,1372.22 L1281.69,1368.59 L1274.86,1363.34 L1268.11,1357.63 L1261.48,1351.48 L1255,1344.92 L1248.69,1337.98 L1242.58,1330.68 L1236.7,1323.06 L1231.07,1315.15 L1225.72,1306.99 L1220.66,1298.6 L1216.26,1290.63 L1215.93,1290.03 L1211.53,1281.31 L1207.5,1272.48 L1203.84,1263.58 L1200.57,1254.64 L1197.71,1245.7 L1195.27,1236.81 L1193.26,1227.99 L1191.69,1219.3 L1190.56,1210.75 L1189.81,1204.8 L1189.09,1195.95 Z" fill="url(#gfd)" stroke="none"/>
<path d="M1188.85,1187.33 L1189.09,1178.99 L1189.67,1172.09 L1190.43,1163.68 L1191.68,1155.64 L1193.43,1147.99 L1195.53,1140.83 L1197.84,1133.36 L1200.65,1126.36 L1203.94,1119.88 L1207.56,1113.09 L1211.41,1106.99 L1215.73,1101.47 L1220.68,1095.68 L1225.51,1090.69 L1230.77,1086.32 L1236.84,1081.82 L1242.54,1078.08 L1248.62,1075.02 L1255.06,1072.63 L1261.83,1070.94 L1268.9,1069.94 L1276.25,1069.65 L1283.84,1070.06 L1291.63,1071.18 L1299.61,1072.99 L1307.72,1075.49 L1315.94,1078.66 L1324.23,1082.51 L1332.56,1087 L1340.88,1092.12 L1349.17,1097.85 L1357.39,1104.16 L1365.5,1111.03 L1373.48,1118.43 L1381.27,1126.32 L1388.86,1134.67 L1396.21,1143.44 L1403.28,1152.61 L1410.05,1162.12 L1416.49,1171.94 L1422.57,1182.03 L1428.27,1192.34 L1433.55,1202.82 L1438.41,1213.44 L1442.81,1224.15 L1446.73,1234.9 L1450.17,1245.65 L1453.11,1256.35 L1455.52,1266.95 L1457.42,1277.41 L1458.77,1287.68 L1459.59,1297.73 L1459.86,1307.5 L1459.59,1316.96 L1458.77,1326.06 L1457.42,1334.77 L1455.52,1343.04 L1453.11,1350.85 L1450.17,1358.16 L1446.73,1364.94 L1442.81,1371.15 L1438.41,1376.78 L1433.55,1381.8 L1428.27,1386.18 L1422.57,1389.92 L1416.49,1392.98 L1409.55,1395.99 L1403.15,1398.36 L1396.41,1400.05 L1388.91,1401.44 L1381.98,1402.41 L1374.77,1402.7 L1367.08,1402.45 L1359.82,1402.05 L1352.36,1400.99 L1344.73,1399.26 L1337.48,1397.49 L1329.98,1395.18 L1322.39,1392.25 L1314.73,1388.69 L1308.46,1385.75 L1301.12,1381.79 L1293.78,1377.27 L1286.47,1372.22 L1281.69,1368.59 L1274.86,1363.34 L1268.11,1357.63 L1261.48,1351.48 L1255,1344.92 L1248.69,1337.98 L1242.58,1330.68 L1236.7,1323.06 L1231.07,1315.15 L1225.72,1306.99 L1220.66,1298.6 L1216.26,1290.63 L1215.93,1290.03 L1211.53,1281.31 L1207.5,1272.48 L1203.84,1263.58 L1200.57,1254.64 L1197.71,1245.7 L1195.27,1236.81 L1193.26,1227.99 L1191.69,1219.3 L1190.56,1210.75 L1189.81,1204.8 L1189.09,1195.95 Z" fill="url(#gfh)" stroke="#111" stroke-width="1.6"/>
<path d="M1693.74,817.58 L1696.93,815.86 L1700.23,814.34 L1703.64,813 L1707.14,811.87 L1710.74,810.93 L1714.42,810.18 L1718.19,809.64 L1722.04,809.3 L1725.96,809.15 L1729.95,809.21 L1734.01,809.47 L1738.13,809.92 L1742.31,810.58 L1746.53,811.43 L1750.81,812.49 L1755.12,813.73 L1759.46,815.18 L1763.84,816.81 L1768.24,818.64 L1772.66,820.65 L1777.09,822.85 L1781.53,825.24 L1785.98,827.81 L1790.42,830.55 L1794.85,833.47 L1799.27,836.55 L1803.67,839.81 L1808.05,843.23 L1812.39,846.8 L1816.7,850.53 L1820.98,854.41 L1825.2,858.44 L1829.38,862.6 L1833.5,866.9 L1837.56,871.34 L1841.55,875.89 L1845.47,880.56 L1849.32,885.35 L1853.09,890.25 L1856.77,895.24 L1860.37,900.33 L1863.87,905.51 L1867.27,910.78 L1870.58,916.12 L1873.77,921.53 L1876.86,927 L1879.83,932.53 L1882.69,938.11 L1885.43,943.73 L1888.04,949.39 L1890.52,955.08 L1892.88,960.79 L1895.1,966.52 L1897.19,972.25 L1899.13,977.99 L1900.94,983.72 L1902.61,989.44 L1904.12,995.14 L1905.5,1000.81 L1906.72,1006.45 L1907.8,1012.05 L1908.72,1017.6 L1909.49,1023.1 L1910.11,1028.54 L1910.58,1033.91 L1910.89,1039.21 L1911.04,1044.42 L1911.04,1049.55 L1910.89,1054.59 L1910.58,1059.53 L1910.11,1064.37 L1909.49,1069.09 L1908.72,1073.7 L1907.8,1078.18 L1906.72,1082.54 L1905.5,1086.77 L1904.12,1090.85 L1902.61,1094.8 L1900.94,1098.59 L1899.13,1102.24 L1897.19,1105.73 L1895.1,1109.05 L1892.88,1112.21 L1890.52,1115.2 L1888.04,1118.02 L1885.43,1120.67 L1882.69,1123.13 L1879.83,1125.41 L1876.86,1127.51 L1873.77,1129.42 L1879.47,1125.68 L1886.48,1120.64 L1891.74,1116.27 L1896.57,1111.28 L1902.44,1104.95 L1906.75,1099.43 L1910.61,1093.34 L1915.14,1086.03 L1918.43,1079.54 L1921.24,1072.55 L1924.29,1064.62 L1926.53,1057.4 L1928.27,1049.76 L1929.8,1041.63 L1930.99,1033.95 L1931.71,1025.92 L1931.95,1017.58 L1931.95,1010.17 L1931.72,1002.04 L1931.04,993.69 L1929.91,985.15 L1928.34,976.45 L1927.16,971.06 L1925.29,962.86 L1923.02,954.59 L1920.36,946.29 L1917.33,937.97 L1913.93,929.7 L1910.17,921.49 L1906.09,913.38 L1901.69,905.41 L1896.99,897.61 L1892.01,890.02 L1886.78,882.67 L1881.31,875.59 L1875.63,868.8 L1869.76,862.35 L1863.73,856.25 L1857.57,850.53 L1853.49,846.81 L1846.75,841.1 L1839.91,835.85 L1833.02,831.09 L1826.1,826.83 L1819.68,823.12 L1812.34,819.15 L1805.03,815.76 L1797.78,812.96 L1789.97,810.21 L1782.48,807.9 L1775.11,806.23 L1766.72,804.91 L1759.26,803.85 L1752,803.46 L1743.4,803.73 L1736.19,804.01 L1729.25,804.99 L1720.84,806.91 L1714.1,808.6 L1707.69,810.97 L1699.82,814.52 Z" fill="url(#gbh)" stroke="none"/>
<path d="M1188.85,1187.33 L1189.09,1178.99 L1189.67,1172.09 L1190.43,1163.68 L1191.68,1155.64 L1193.43,1147.99 L1195.53,1140.83 L1197.84,1133.36 L1200.65,1126.36 L1203.94,1119.88 L1207.56,1113.09 L1211.41,1106.99 L1215.73,1101.47 L1220.68,1095.68 L1225.51,1090.69 L1230.77,1086.32 L1236.84,1081.82 L1242.54,1078.08 L1693.74,817.58 L1699.82,814.52 L1707.69,810.97 L1714.1,808.6 L1720.84,806.91 L1729.25,804.99 L1736.19,804.01 L1743.4,803.73 L1752,803.46 L1759.26,803.85 L1766.72,804.91 L1775.11,806.23 L1782.48,807.9 L1789.97,810.21 L1797.78,812.96 L1805.03,815.76 L1812.34,819.15 L1819.68,823.12 L1826.1,826.83 L1833.02,831.09 L1839.91,835.85 L1846.75,841.1 L1853.49,846.81 L1857.57,850.53 L1863.73,856.25 L1869.76,862.35 L1875.63,868.8 L1881.31,875.59 L1886.78,882.67 L1892.01,890.02 L1896.99,897.61 L1901.69,905.41 L1906.09,913.38 L1910.17,921.49 L1913.93,929.7 L1917.33,937.97 L1920.36,946.29 L1923.02,954.59 L1925.29,962.86 L1927.16,971.06 L1928.34,976.45 L1929.91,985.15 L1931.04,993.69 L1931.72,1002.04 L1931.95,1010.17 L1931.95,1017.58 L1931.71,1025.92 L1930.99,1033.95 L1929.8,1041.63 L1928.27,1049.76 L1926.53,1057.4 L1924.29,1064.62 L1921.24,1072.55 L1918.43,1079.54 L1915.14,1086.03 L1910.61,1093.34 L1906.75,1099.43 L1902.44,1104.95 L1896.57,1111.28 L1891.74,1116.27 L1886.48,1120.64 L1879.47,1125.68 L1873.77,1129.42 L1422.57,1389.92 L1416.49,1392.98 L1409.55,1395.99 L1403.15,1398.36 L1396.41,1400.05 L1388.91,1401.44 L1381.98,1402.41 L1374.77,1402.7 L1367.08,1402.45 L1359.82,1402.05 L1352.36,1400.99 L1344.73,1399.26 L1337.48,1397.49 L1329.98,1395.18 L1322.39,1392.25 L1314.73,1388.69 L1308.46,1385.75 L1301.12,1381.79 L1293.78,1377.27 L1286.47,1372.22 L1281.69,1368.59 L1274.86,1363.34 L1268.11,1357.63 L1261.48,1351.48 L1255,1344.92 L1248.69,1337.98 L1242.58,1330.68 L1236.7,1323.06 L1231.07,1315.15 L1225.72,1306.99 L1220.66,1298.6 L1216.26,1290.63 L1215.93,1290.03 L1211.53,1281.31 L1207.5,1272.48 L1203.84,1263.58 L1200.57,1254.64 L1197.71,1245.7 L1195.27,1236.81 L1193.26,1227.99 L1191.69,1219.3 L1190.56,1210.75 L1189.81,1204.8 L1189.09,1195.95 Z" fill="url(#gu)" stroke="none"/>
<path d="M1242.54,1078.08 L1247.37,1075.58 L1252.44,1073.5 L1257.73,1071.87 L1263.22,1070.68 L1268.9,1069.94 L1274.76,1069.65 L1280.78,1069.81 L1286.93,1070.42 L1293.22,1071.48 L1299.61,1072.99 L1306.09,1074.93 L1312.64,1077.31 L1319.25,1080.12 L1325.89,1083.35 L1332.56,1087 L1339.22,1091.05 L1345.86,1095.49 L1352.47,1100.31 L1359.02,1105.49 L1365.5,1111.03 L1371.9,1116.91 L1378.18,1123.1 L1384.34,1129.6 L1390.35,1136.39 L1396.21,1143.44 L1401.89,1150.75 L1407.38,1158.28 L1412.67,1166.01 L1417.74,1173.94 L1422.57,1182.03 L1427.16,1190.26 L1431.49,1198.61 L1435.55,1207.06 L1439.32,1215.58 L1442.81,1224.15 L1445.99,1232.75 L1448.86,1241.36 L1451.41,1249.94 L1453.63,1258.48 L1455.52,1266.95 L1457.08,1275.33 L1458.29,1283.6 L1459.16,1291.73 L1459.69,1299.71 L1459.86,1307.5 L1459.69,1315.09 L1459.16,1322.46 L1458.29,1329.59 L1457.08,1336.46 L1455.52,1343.04 L1453.63,1349.33 L1451.41,1355.3 L1448.86,1360.94 L1445.99,1366.23 L1442.81,1371.15 L1439.32,1375.7 L1435.55,1379.87 L1431.49,1383.63 L1427.16,1386.98 L1422.57,1389.92" fill="none" stroke="#111" stroke-width="1.5"/>
<path d="M1246.87,1075.58 L1251.7,1073.08 L1256.77,1071 L1262.06,1069.37 L1267.55,1068.18 L1273.23,1067.44 L1279.09,1067.15 L1285.11,1067.31 L1291.26,1067.92 L1297.55,1068.98 L1303.94,1070.49 L1310.42,1072.43 L1316.97,1074.81 L1323.58,1077.62 L1330.22,1080.85 L1336.89,1084.5 L1343.55,1088.55 L1350.19,1092.99 L1356.8,1097.81 L1363.35,1102.99 L1369.83,1108.53 L1376.23,1114.41 L1382.51,1120.6 L1388.67,1127.1 L1394.68,1133.89 L1400.54,1140.94 L1406.22,1148.25 L1411.71,1155.78 L1417,1163.51 L1422.07,1171.44 L1426.9,1179.53 L1431.49,1187.76 L1435.82,1196.11 L1439.88,1204.56 L1443.65,1213.08 L1447.14,1221.65 L1450.32,1230.25 L1453.19,1238.86 L1455.74,1247.44 L1457.96,1255.98 L1459.85,1264.45 L1461.41,1272.83 L1462.62,1281.1 L1463.49,1289.23 L1464.02,1297.21 L1464.19,1305 L1464.02,1312.59 L1463.49,1319.96 L1462.62,1327.09 L1461.41,1333.96 L1459.85,1340.54 L1457.96,1346.83 L1455.74,1352.8 L1453.19,1358.44 L1450.32,1363.73 L1447.14,1368.65 L1443.65,1373.2 L1439.88,1377.37 L1435.82,1381.13 L1431.49,1384.48 L1426.9,1387.42" fill="none" stroke="#111" stroke-width="1.1"/>
<path d="M1693.74,817.58 L1698.57,815.08 L1703.64,813 L1708.93,811.37 L1714.42,810.18 L1720.1,809.44 L1725.96,809.15 L1731.97,809.31 L1738.13,809.92 L1744.42,810.98 L1750.81,812.49 L1757.29,814.43 L1763.84,816.81 L1770.45,819.62 L1777.09,822.85 L1783.75,826.5 L1790.42,830.55 L1797.06,834.99 L1803.67,839.81 L1810.22,844.99 L1816.7,850.53 L1823.09,856.41 L1829.38,862.6 L1835.53,869.1 L1841.55,875.89 L1847.41,882.94 L1853.09,890.25 L1858.58,897.78 L1863.87,905.51 L1868.94,913.44 L1873.77,921.53 L1878.36,929.76 L1882.69,938.11 L1886.75,946.56 L1890.52,955.08 L1894,963.65 L1897.19,972.25 L1900.05,980.86 L1902.61,989.44 L1904.83,997.98 L1906.72,1006.45 L1908.28,1014.83 L1909.49,1023.1 L1910.36,1031.23 L1910.89,1039.21 L1911.06,1047 L1910.89,1054.59 L1910.36,1061.96 L1909.49,1069.09 L1908.28,1075.96 L1906.72,1082.54 L1904.83,1088.83 L1902.61,1094.8 L1900.05,1100.44 L1897.19,1105.73 L1894,1110.65 L1890.52,1115.2 L1886.75,1119.37 L1882.69,1123.13 L1878.36,1126.48 L1873.77,1129.42" fill="none" stroke="#111" stroke-width="1.5"/>
<path d="M1698.07,815.08 L1702.9,812.58 L1707.97,810.5 L1713.26,808.87 L1718.75,807.68 L1724.43,806.94 L1730.29,806.65 L1736.31,806.81 L1742.46,807.42 L1748.75,808.48 L1755.14,809.99 L1761.62,811.93 L1768.17,814.31 L1774.78,817.12 L1781.42,820.35 L1788.09,824 L1794.75,828.05 L1801.39,832.49 L1808,837.31 L1814.55,842.49 L1821.03,848.03 L1827.42,853.91 L1833.71,860.1 L1839.86,866.6 L1845.88,873.39 L1851.74,880.44 L1857.42,887.75 L1862.91,895.28 L1868.2,903.01 L1873.27,910.94 L1878.1,919.03 L1882.69,927.26 L1887.02,935.61 L1891.08,944.06 L1894.85,952.58 L1898.33,961.15 L1901.52,969.75 L1904.38,978.36 L1906.94,986.94 L1909.16,995.48 L1911.05,1003.95 L1912.61,1012.33 L1913.82,1020.6 L1914.69,1028.73 L1915.22,1036.71 L1915.39,1044.5 L1915.22,1052.09 L1914.69,1059.46 L1913.82,1066.59 L1912.61,1073.46 L1911.05,1080.04 L1909.16,1086.33 L1906.94,1092.3 L1904.38,1097.94 L1901.52,1103.23 L1898.33,1108.15 L1894.85,1112.7 L1891.08,1116.87 L1887.02,1120.63 L1882.69,1123.98 L1878.1,1126.92" fill="none" stroke="#111" stroke-width="1.1"/>
<path d="M1513.53,935.14 L1513.67,936.89 L1514.1,938.66 L1514.81,940.45 L1515.81,942.27 L1517.09,944.13 L1518.64,946.03 L1520.47,947.97 L1522.56,949.95 L1524.91,951.97 L1527.52,954.03 L1530.38,956.12 L1533.48,958.26 L1536.81,960.43 L1540.36,962.63 L1544.13,964.85 L1548.09,967.09 L1552.25,969.35 L1556.59,971.6 L1561.1,973.86 L1565.76,976.1 L1570.57,978.32 L1575.51,980.52 L1580.56,982.66 L1585.71,984.76 L1590.96,986.78 L1596.28,988.73 L1601.65,990.59 L1607.08,992.34 L1612.53,993.97 L1618,995.46 L1623.47,996.8 L1628.92,997.98 L1634.34,998.98 L1639.72,999.78 L1645.04,1000.37 L1650.28,1000.74 L1655.44,1000.86 L1660.49,1000.74 L1665.43,1000.35 L1670.23,999.7 L1674.9,998.76 L1679.4,997.54 L1683.74,996.02 L1687.9,994.22 L1691.87,992.13 L1695.63,989.76 L1699.19,987.11 L1702.52,984.19 L1705.61,981.02 L1708.47,977.62 L1711.08,974 L1713.44,970.17 L1715.53,966.17 L1717.36,962.01 L1718.91,957.72 L1720.19,953.32 L1721.18,948.84 L1721.9,944.3 L1722.33,939.73 L1722.47,935.14 L1722.47,682 L1722.33,685.16 L1721.9,688.3 L1721.18,691.44 L1720.19,694.54 L1718.91,697.61 L1717.36,700.64 L1715.53,703.62 L1713.44,706.53 L1711.08,709.38 L1708.47,712.16 L1705.61,714.85 L1702.52,717.45 L1699.19,719.96 L1695.63,722.36 L1691.87,724.65 L1687.9,726.82 L1683.74,728.87 L1679.4,730.8 L1674.9,732.59 L1670.23,734.24 L1665.43,735.74 L1660.49,737.1 L1655.44,738.31 L1650.28,739.36 L1645.04,740.26 L1639.72,741 L1634.34,741.57 L1628.92,741.99 L1623.47,742.23 L1618,742.32 L1612.53,742.23 L1607.08,741.99 L1601.65,741.57 L1596.28,741 L1590.96,740.26 L1585.71,739.36 L1580.56,738.31 L1575.51,737.1 L1570.57,735.74 L1565.76,734.24 L1561.1,732.59 L1556.59,730.8 L1552.25,728.87 L1548.09,726.82 L1544.13,724.65 L1540.36,722.36 L1536.81,719.96 L1533.48,717.45 L1530.38,714.85 L1527.52,712.16 L1524.91,709.38 L1522.56,706.53 L1520.47,703.62 L1518.64,700.64 L1517.09,697.61 L1515.81,694.54 L1514.81,691.44 L1514.1,688.3 L1513.67,685.16 L1513.53,682 Z" fill="url(#gc)" stroke="#111" stroke-width="1.6"/>
<path d="M1513.53,682 L1513.61,679.84 L1513.85,677.68 L1514.74,669.84 L1515.14,667.72 L1515.7,665.62 L1516.41,663.55 L1518.33,657.98 L1519.03,655.96 L1519.87,653.98 L1520.88,652.05 L1525.1,644.86 L1526.2,643.05 L1527.44,641.31 L1528.83,639.63 L1534.41,633.09 L1535.83,631.59 L1537.38,630.16 L1544.15,624.31 L1545.68,623.09 L1547.33,621.96 L1555.01,616.9 L1556.58,615.98 L1565.12,611.66 L1566.55,610.96 L1568.05,610.37 L1576.98,606.93 L1586.6,604.19 L1587.6,603.91 L1597.44,601.98 L1598.14,601.88 L1607.98,600.75 L1618,600.37 L1628.01,600.75 L1637.85,601.88 L1638.56,601.98 L1648.4,603.91 L1649.39,604.19 L1657.72,606.56 L1659.02,606.93 L1667.94,610.37 L1669.45,610.96 L1670.88,611.66 L1679.42,615.98 L1680.98,616.9 L1688.67,621.96 L1690.31,623.09 L1691.85,624.31 L1698.61,630.16 L1700.16,631.59 L1701.58,633.09 L1707.17,639.63 L1708.55,641.31 L1709.79,643.05 L1710.89,644.86 L1715.12,652.05 L1716.12,653.98 L1716.97,655.96 L1717.67,657.98 L1720.3,665.62 L1720.86,667.72 L1721.26,669.84 L1722.15,677.68 L1722.39,679.84 L1722.47,682 L1721.57,689.87 L1718.91,697.61 L1714.52,705.08 L1708.47,712.16 L1700.88,718.72 L1691.87,724.65 L1681.6,729.85 L1670.23,734.24 L1657.98,737.72 L1645.04,740.26 L1631.63,741.8 L1618,742.32 L1604.36,741.8 L1590.96,740.26 L1578.02,737.72 L1565.76,734.24 L1554.4,729.85 L1544.13,724.65 L1535.12,718.72 L1527.52,712.16 L1521.48,705.08 L1517.09,697.61 L1514.42,689.87 Z" fill="url(#gd)" stroke="#111" stroke-width="1.5"/>
<path d="M1513.53,684 L1513.67,687.16 L1514.1,690.3 L1514.81,693.44 L1515.81,696.54 L1517.09,699.61 L1518.64,702.64 L1520.47,705.62 L1522.56,708.53 L1524.91,711.38 L1527.52,714.16 L1530.38,716.85 L1533.48,719.45 L1536.81,721.96 L1540.36,724.36 L1544.13,726.65 L1548.09,728.82 L1552.25,730.87 L1556.59,732.8 L1561.1,734.59 L1565.76,736.24 L1570.57,737.74 L1575.51,739.1 L1580.56,740.31 L1585.71,741.36 L1590.96,742.26 L1596.28,743 L1601.65,743.57 L1607.08,743.99 L1612.53,744.23 L1618,744.32 L1623.47,744.23 L1628.92,743.99 L1634.34,743.57 L1639.72,743 L1645.04,742.26 L1650.28,741.36 L1655.44,740.31 L1660.49,739.1 L1665.43,737.74 L1670.23,736.24 L1674.9,734.59 L1679.4,732.8 L1683.74,730.87 L1687.9,728.82 L1691.87,726.65 L1695.63,724.36 L1699.19,721.96 L1702.52,719.45 L1705.61,716.85 L1708.47,714.16 L1711.08,711.38 L1713.44,708.53 L1715.53,705.62 L1717.36,702.64 L1718.91,699.61 L1720.19,696.54 L1721.18,693.44 L1721.9,690.3 L1722.33,687.16 L1722.47,684" fill="none" stroke="#111" stroke-width="1.4"/>
<path d="M1513.53,691 L1513.67,694.16 L1514.1,697.3 L1514.81,700.44 L1515.81,703.54 L1517.09,706.61 L1518.64,709.64 L1520.47,712.62 L1522.56,715.53 L1524.91,718.38 L1527.52,721.16 L1530.38,723.85 L1533.48,726.45 L1536.81,728.96 L1540.36,731.36 L1544.13,733.65 L1548.09,735.82 L1552.25,737.87 L1556.59,739.8 L1561.1,741.59 L1565.76,743.24 L1570.57,744.74 L1575.51,746.1 L1580.56,747.31 L1585.71,748.36 L1590.96,749.26 L1596.28,750 L1601.65,750.57 L1607.08,750.99 L1612.53,751.23 L1618,751.32 L1623.47,751.23 L1628.92,750.99 L1634.34,750.57 L1639.72,750 L1645.04,749.26 L1650.28,748.36 L1655.44,747.31 L1660.49,746.1 L1665.43,744.74 L1670.23,743.24 L1674.9,741.59 L1679.4,739.8 L1683.74,737.87 L1687.9,735.82 L1691.87,733.65 L1695.63,731.36 L1699.19,728.96 L1702.52,726.45 L1705.61,723.85 L1708.47,721.16 L1711.08,718.38 L1713.44,715.53 L1715.53,712.62 L1717.36,709.64 L1718.91,706.61 L1720.19,703.54 L1721.18,700.44 L1721.9,697.3 L1722.33,694.16 L1722.47,691" fill="none" stroke="#111" stroke-width="1.2"/>
<path d="M1586.15,599.2 L1586.28,597.6 L1586.64,596.01 L1587.24,594.44 L1588.07,592.91 L1589.14,591.43 L1590.42,590.01 L1591.91,588.65 L1593.6,587.38 L1595.48,586.2 L1597.53,585.12 L1599.73,584.14 L1602.08,583.28 L1604.54,582.54 L1607.11,581.92 L1609.76,581.44 L1612.47,581.09 L1615.22,580.89 L1618,580.82 L1620.77,580.89 L1623.53,581.09 L1626.24,581.44 L1628.89,581.92 L1631.46,582.54 L1633.92,583.28 L1636.26,584.14 L1638.47,585.12 L1640.51,586.2 L1642.39,587.38 L1644.08,588.65 L1645.57,590.01 L1646.86,591.43 L1647.92,592.91 L1648.76,594.44 L1649.36,596.01 L1649.72,597.6 L1649.84,599.2 L1649.84,632.2 L1649.72,633.8 L1649.36,635.39 L1648.76,636.96 L1647.92,638.49 L1646.86,639.97 L1645.57,641.39 L1644.08,642.75 L1642.39,644.02 L1640.51,645.2 L1638.47,646.28 L1636.26,647.26 L1633.92,648.12 L1631.46,648.86 L1628.89,649.48 L1626.24,649.96 L1623.53,650.31 L1620.77,650.51 L1618,650.58 L1615.22,650.51 L1612.47,650.31 L1609.76,649.96 L1607.11,649.48 L1604.54,648.86 L1602.08,648.12 L1599.73,647.26 L1597.53,646.28 L1595.48,645.2 L1593.6,644.02 L1591.91,642.75 L1590.42,641.39 L1589.14,639.97 L1588.07,638.49 L1587.24,636.96 L1586.64,635.39 L1586.28,633.8 L1586.15,632.2 Z" fill="#77716b" stroke="#111" stroke-width="1.6"/>
<path d="M1562.15,592.7 L1562.36,589.89 L1563,587.1 L1564.05,584.35 L1565.52,581.67 L1567.38,579.07 L1569.63,576.58 L1572.25,574.21 L1575.22,571.97 L1578.51,569.9 L1582.1,568 L1585.96,566.29 L1590.07,564.78 L1594.4,563.48 L1598.9,562.4 L1603.54,561.55 L1608.3,560.95 L1613.13,560.58 L1618,560.46 L1622.87,560.58 L1627.7,560.95 L1632.45,561.55 L1637.1,562.4 L1641.6,563.48 L1645.92,564.78 L1650.03,566.29 L1653.9,568 L1657.49,569.9 L1660.78,571.97 L1663.75,574.21 L1666.36,576.58 L1668.61,579.07 L1670.48,581.67 L1671.94,584.35 L1673,587.1 L1673.63,589.89 L1673.85,592.7 L1673.85,600.7 L1673.63,603.51 L1673,606.3 L1671.94,609.05 L1670.48,611.73 L1668.61,614.33 L1666.36,616.82 L1663.75,619.19 L1660.78,621.43 L1657.49,623.5 L1653.9,625.4 L1650.03,627.11 L1645.92,628.62 L1641.6,629.92 L1637.1,631 L1632.45,631.85 L1627.7,632.45 L1622.87,632.82 L1618,632.94 L1613.13,632.82 L1608.3,632.45 L1603.54,631.85 L1598.9,631 L1594.4,629.92 L1590.07,628.62 L1585.96,627.11 L1582.1,625.4 L1578.51,623.5 L1575.22,621.43 L1572.25,619.19 L1569.63,616.82 L1567.38,614.33 L1565.52,611.73 L1564.05,609.05 L1563,606.3 L1562.36,603.51 L1562.15,600.7 Z" fill="#5c5753" stroke="#111" stroke-width="1.6"/>
<path d="M1657.49,569.9 L1653.9,568 L1650.03,566.29 L1645.92,564.78 L1641.6,563.48 L1637.1,562.4 L1632.45,561.55 L1627.7,560.95 L1622.87,560.58 L1618,560.46 L1613.13,560.58 L1608.3,560.95 L1603.54,561.55 L1598.9,562.4 L1594.4,563.48 L1590.07,564.78 L1585.96,566.29 L1582.1,568 L1578.51,569.9 L1575.22,571.97 L1572.25,574.21 L1569.63,576.58 L1567.38,579.07 L1565.52,581.67 L1564.05,584.35 L1563,587.1 L1562.36,589.89 L1562.15,592.7 L1562.36,595.51 L1563,598.3 L1564.05,601.05 L1565.52,603.73 L1567.38,606.33 L1569.63,608.82 L1572.25,611.19 L1575.22,613.43 L1578.51,615.5 L1582.1,617.4 L1585.96,619.11 L1590.07,620.62 L1594.4,621.92 L1598.9,623 L1603.54,623.85 L1608.3,624.45 L1613.13,624.82 L1618,624.94 L1622.87,624.82 L1627.7,624.45 L1632.45,623.85 L1637.1,623 L1641.6,621.92 L1645.92,620.62 L1650.03,619.11 L1653.9,617.4 L1657.49,615.5 L1660.78,613.43 L1663.75,611.19 L1666.36,608.82 L1668.61,606.33 L1670.48,603.73 L1671.94,601.05 L1673,598.3 L1673.63,595.51 L1673.85,592.7 L1673.63,589.89 L1673,587.1 L1671.94,584.35 L1670.48,581.67 L1668.61,579.07 L1666.36,576.58 L1663.75,574.21 L1660.78,571.97 L1657.49,569.9 Z" fill="#fdfbf8" stroke="#111" stroke-width="1.6"/>
<ellipse cx="1651.77" cy="573.2" rx="4" ry="2.4" fill="#222"/>
<ellipse cx="1618" cy="565.12" rx="4" ry="2.4" fill="#222"/>
<ellipse cx="1584.22" cy="573.2" rx="4" ry="2.4" fill="#222"/>
<ellipse cx="1570.23" cy="592.7" rx="4" ry="2.4" fill="#222"/>
<ellipse cx="1584.22" cy="612.2" rx="4" ry="2.4" fill="#222"/>
<ellipse cx="1618" cy="620.28" rx="4" ry="2.4" fill="#222"/>
<ellipse cx="1651.77" cy="612.2" rx="4" ry="2.4" fill="#222"/>
<ellipse cx="1665.76" cy="592.7" rx="4" ry="2.4" fill="#222"/>
<path d="M1595,580 L1596,567 L1629,586.5 Q1640,593 1640,606" fill="none" stroke="#111" stroke-width="7" stroke-linecap="round" stroke-linejoin="round"/>
<path d="M1595,580 L1596,567 L1629,586.5 Q1640,593 1640,606" fill="none" stroke="#d9d3cb" stroke-width="4.2" stroke-linecap="round" stroke-linejoin="round"/>
<path d="M1597,568 L1629,587 Q1638,592 1638.5,604" fill="none" stroke="#fbf8f3" stroke-width="1.6" stroke-linecap="round"/>
<path d="M1550.5,611 L1550.5,685 Q1551,694 1560,693 Q1573,690 1573.5,680 L1573.5,611 Z" fill="#6d6863" stroke="#111" stroke-width="1.6"/>
<path d="M1551.3,611 L1551.3,685 Q1552,692.5 1560,692 Q1572.5,689 1572.7,680 L1572.7,611 Z" fill="url(#gg)"/>
<ellipse cx="1562" cy="610.5" rx="11.5" ry="6.5" fill="#8e8883" stroke="#111" stroke-width="1.6"/>
<path d="M1475.42,769.91 L1521.42,763.91 L1518.58,742.09 L1472.58,748.09 Z" fill="url(#gn1474)" stroke="#111" stroke-width="1.5"/>
<ellipse cx="1474" cy="759" rx="6" ry="11.5" transform="rotate(0 1474 759)" fill="#fbf8f4" stroke="#111" stroke-width="2.2"/>
<ellipse cx="1474.8" cy="759.5" rx="3.7199999999999998" ry="7.13" transform="rotate(0 1474 759)" fill="#e3ddd5" stroke="#111" stroke-width="1.4"/>
<path d="M1517.75,808.67 L1558.25,786.67 L1547.75,767.33 L1507.25,789.33 Z" fill="url(#gn1512)" stroke="#111" stroke-width="1.5"/>
<ellipse cx="1512.5" cy="799" rx="9.5" ry="10.5" transform="rotate(-30 1512.5 799)" fill="#fbf8f4" stroke="#111" stroke-width="2.2"/>
<ellipse cx="1513.3" cy="799.5" rx="5.89" ry="6.51" transform="rotate(-30 1512.5 799)" fill="#e3ddd5" stroke="#111" stroke-width="1.4"/>
<path d="M1588.43,824.66 L1606.43,794.66 L1587.57,783.34 L1569.57,813.34 Z" fill="url(#gn1579)" stroke="#111" stroke-width="1.5"/>
<ellipse cx="1579" cy="819" rx="9.5" ry="10.5" transform="rotate(25 1579 819)" fill="#fbf8f4" stroke="#111" stroke-width="2.2"/>
<ellipse cx="1579.8" cy="819.5" rx="5.89" ry="6.51" transform="rotate(25 1579 819)" fill="#e3ddd5" stroke="#111" stroke-width="1.4"/>
<path d="M1363.98,1015 L1364.02,1014.4 L1364.16,1013.81 L1364.38,1013.22 L1364.69,1012.65 L1365.09,1012.1 L1365.57,1011.57 L1366.13,1011.07 L1366.76,1010.59 L1367.46,1010.15 L1368.22,1009.75 L1369.04,1009.38 L1369.92,1009.06 L1370.84,1008.78 L1371.79,1008.55 L1372.78,1008.37 L1373.79,1008.25 L1374.82,1008.17 L1375.86,1008.14 L1376.89,1008.17 L1377.92,1008.25 L1378.93,1008.37 L1379.92,1008.55 L1380.88,1008.78 L1381.8,1009.06 L1382.67,1009.38 L1383.49,1009.75 L1384.26,1010.15 L1384.96,1010.59 L1385.59,1011.07 L1386.15,1011.57 L1386.62,1012.1 L1387.02,1012.65 L1387.33,1013.22 L1387.56,1013.81 L1387.69,1014.4 L1387.74,1015 L1387.74,1059 L1387.69,1059.6 L1387.56,1060.19 L1387.33,1060.78 L1387.02,1061.35 L1386.62,1061.9 L1386.15,1062.43 L1385.59,1062.93 L1384.96,1063.41 L1384.26,1063.85 L1383.49,1064.25 L1382.67,1064.62 L1381.8,1064.94 L1380.88,1065.22 L1379.92,1065.45 L1378.93,1065.63 L1377.92,1065.75 L1376.89,1065.83 L1375.86,1065.86 L1374.82,1065.83 L1373.79,1065.75 L1372.78,1065.63 L1371.79,1065.45 L1370.84,1065.22 L1369.92,1064.94 L1369.04,1064.62 L1368.22,1064.25 L1367.46,1063.85 L1366.76,1063.41 L1366.13,1062.93 L1365.57,1062.43 L1365.09,1061.9 L1364.69,1061.35 L1364.38,1060.78 L1364.16,1060.19 L1364.02,1059.6 L1363.98,1059 Z" fill="url(#gtn587)" stroke="#111" stroke-width="1.5"/>
<path d="M1384.26,1010.15 L1383.09,1009.56 L1381.8,1009.06 L1380.4,1008.66 L1378.93,1008.37 L1377.41,1008.2 L1375.86,1008.14 L1374.31,1008.2 L1372.78,1008.37 L1371.31,1008.66 L1369.92,1009.06 L1368.62,1009.56 L1367.46,1010.15 L1366.43,1010.82 L1365.57,1011.57 L1364.88,1012.38 L1364.38,1013.22 L1364.08,1014.1 L1363.98,1015 L1364.08,1015.9 L1364.38,1016.78 L1364.88,1017.62 L1365.57,1018.43 L1366.43,1019.18 L1367.46,1019.85 L1368.62,1020.44 L1369.92,1020.94 L1371.31,1021.34 L1372.78,1021.63 L1374.31,1021.8 L1375.86,1021.86 L1377.41,1021.8 L1378.93,1021.63 L1380.4,1021.34 L1381.8,1020.94 L1383.09,1020.44 L1384.26,1019.85 L1385.28,1019.18 L1386.15,1018.43 L1386.83,1017.62 L1387.33,1016.78 L1387.64,1015.9 L1387.74,1015 L1387.64,1014.1 L1387.33,1013.22 L1386.83,1012.38 L1386.15,1011.57 L1385.28,1010.82 L1384.26,1010.15 Z" fill="#a39d97" stroke="#111" stroke-width="1.5"/>
<path d="M1381.49,1011.75 L1380.7,1011.35 L1379.84,1011.02 L1378.9,1010.75 L1377.92,1010.56 L1376.9,1010.44 L1375.86,1010.4 L1374.82,1010.44 L1373.8,1010.56 L1372.81,1010.75 L1371.88,1011.02 L1371.01,1011.35 L1370.23,1011.75 L1369.54,1012.2 L1368.96,1012.7 L1368.5,1013.24 L1368.17,1013.81 L1367.96,1014.4 L1367.9,1015 L1367.96,1015.6 L1368.17,1016.19 L1368.5,1016.76 L1368.96,1017.3 L1369.54,1017.8 L1370.23,1018.25 L1371.01,1018.65 L1371.88,1018.98 L1372.81,1019.25 L1373.8,1019.44 L1374.82,1019.56 L1375.86,1019.6 L1376.9,1019.56 L1377.92,1019.44 L1378.9,1019.25 L1379.84,1018.98 L1380.7,1018.65 L1381.49,1018.25 L1382.17,1017.8 L1382.75,1017.3 L1383.21,1016.76 L1383.55,1016.19 L1383.75,1015.6 L1383.82,1015 L1383.75,1014.4 L1383.55,1013.81 L1383.21,1013.24 L1382.75,1012.7 L1382.17,1012.2 L1381.49,1011.75 Z" fill="#77716b" stroke="#222" stroke-width="1"/>
<path d="M1404.68,991.5 L1404.73,990.9 L1404.86,990.31 L1405.08,989.72 L1405.4,989.15 L1405.79,988.6 L1406.27,988.07 L1406.83,987.57 L1407.46,987.09 L1408.16,986.65 L1408.92,986.25 L1409.75,985.88 L1410.62,985.56 L1411.54,985.28 L1412.5,985.05 L1413.49,984.87 L1414.5,984.75 L1415.52,984.67 L1416.56,984.64 L1417.6,984.67 L1418.62,984.75 L1419.63,984.87 L1420.62,985.05 L1421.58,985.28 L1422.5,985.56 L1423.37,985.88 L1424.2,986.25 L1424.96,986.65 L1425.66,987.09 L1426.29,987.57 L1426.85,988.07 L1427.33,988.6 L1427.72,989.15 L1428.04,989.72 L1428.26,990.31 L1428.39,990.9 L1428.44,991.5 L1428.44,1035.5 L1428.39,1036.1 L1428.26,1036.69 L1428.04,1037.28 L1427.72,1037.85 L1427.33,1038.4 L1426.85,1038.93 L1426.29,1039.43 L1425.66,1039.91 L1424.96,1040.35 L1424.2,1040.75 L1423.37,1041.12 L1422.5,1041.44 L1421.58,1041.72 L1420.62,1041.95 L1419.63,1042.13 L1418.62,1042.25 L1417.6,1042.33 L1416.56,1042.36 L1415.52,1042.33 L1414.5,1042.25 L1413.49,1042.13 L1412.5,1041.95 L1411.54,1041.72 L1410.62,1041.44 L1409.75,1041.12 L1408.92,1040.75 L1408.16,1040.35 L1407.46,1039.91 L1406.83,1039.43 L1406.27,1038.93 L1405.79,1038.4 L1405.4,1037.85 L1405.08,1037.28 L1404.86,1036.69 L1404.73,1036.1 L1404.68,1035.5 Z" fill="url(#gtn634)" stroke="#111" stroke-width="1.5"/>
<path d="M1424.96,986.65 L1423.79,986.06 L1422.5,985.56 L1421.11,985.16 L1419.63,984.87 L1418.11,984.7 L1416.56,984.64 L1415.01,984.7 L1413.49,984.87 L1412.01,985.16 L1410.62,985.56 L1409.33,986.06 L1408.16,986.65 L1407.14,987.32 L1406.27,988.07 L1405.58,988.88 L1405.08,989.72 L1404.78,990.6 L1404.68,991.5 L1404.78,992.4 L1405.08,993.28 L1405.58,994.12 L1406.27,994.93 L1407.14,995.68 L1408.16,996.35 L1409.33,996.94 L1410.62,997.44 L1412.01,997.84 L1413.49,998.13 L1415.01,998.3 L1416.56,998.36 L1418.11,998.3 L1419.63,998.13 L1421.11,997.84 L1422.5,997.44 L1423.79,996.94 L1424.96,996.35 L1425.99,995.68 L1426.85,994.93 L1427.54,994.12 L1428.04,993.28 L1428.34,992.4 L1428.44,991.5 L1428.34,990.6 L1428.04,989.72 L1427.54,988.88 L1426.85,988.07 L1425.99,987.32 L1424.96,986.65 Z" fill="#a39d97" stroke="#111" stroke-width="1.5"/>
<path d="M1422.19,988.25 L1421.41,987.85 L1420.54,987.52 L1419.61,987.25 L1418.62,987.06 L1417.6,986.94 L1416.56,986.9 L1415.52,986.94 L1414.5,987.06 L1413.51,987.25 L1412.58,987.52 L1411.71,987.85 L1410.93,988.25 L1410.24,988.7 L1409.67,989.2 L1409.21,989.74 L1408.87,990.31 L1408.67,990.9 L1408.6,991.5 L1408.67,992.1 L1408.87,992.69 L1409.21,993.26 L1409.67,993.8 L1410.24,994.3 L1410.93,994.75 L1411.71,995.15 L1412.58,995.48 L1413.51,995.75 L1414.5,995.94 L1415.52,996.06 L1416.56,996.1 L1417.6,996.06 L1418.62,995.94 L1419.61,995.75 L1420.54,995.48 L1421.41,995.15 L1422.19,994.75 L1422.88,994.3 L1423.45,993.8 L1423.91,993.26 L1424.25,992.69 L1424.45,992.1 L1424.52,991.5 L1424.45,990.9 L1424.25,990.31 L1423.91,989.74 L1423.45,989.2 L1422.88,988.7 L1422.19,988.25 Z" fill="#77716b" stroke="#222" stroke-width="1"/>
<path d="M1445.38,968 L1445.43,967.4 L1445.56,966.81 L1445.79,966.22 L1446.1,965.65 L1446.5,965.1 L1446.97,964.57 L1447.53,964.07 L1448.16,963.59 L1448.86,963.15 L1449.63,962.75 L1450.45,962.38 L1451.32,962.06 L1452.24,961.78 L1453.2,961.55 L1454.19,961.37 L1455.2,961.25 L1456.23,961.17 L1457.26,961.14 L1458.3,961.17 L1459.33,961.25 L1460.34,961.37 L1461.33,961.55 L1462.28,961.78 L1463.2,962.06 L1464.08,962.38 L1464.9,962.75 L1465.66,963.15 L1466.36,963.59 L1466.99,964.07 L1467.55,964.57 L1468.03,965.1 L1468.43,965.65 L1468.74,966.22 L1468.96,966.81 L1469.1,967.4 L1469.14,968 L1469.14,1012 L1469.1,1012.6 L1468.96,1013.19 L1468.74,1013.78 L1468.43,1014.35 L1468.03,1014.9 L1467.55,1015.43 L1466.99,1015.93 L1466.36,1016.41 L1465.66,1016.85 L1464.9,1017.25 L1464.08,1017.62 L1463.2,1017.94 L1462.28,1018.22 L1461.33,1018.45 L1460.34,1018.63 L1459.33,1018.75 L1458.3,1018.83 L1457.26,1018.86 L1456.23,1018.83 L1455.2,1018.75 L1454.19,1018.63 L1453.2,1018.45 L1452.24,1018.22 L1451.32,1017.94 L1450.45,1017.62 L1449.63,1017.25 L1448.86,1016.85 L1448.16,1016.41 L1447.53,1015.93 L1446.97,1015.43 L1446.5,1014.9 L1446.1,1014.35 L1445.79,1013.78 L1445.56,1013.19 L1445.43,1012.6 L1445.38,1012 Z" fill="url(#gtn681)" stroke="#111" stroke-width="1.5"/>
<path d="M1465.66,963.15 L1464.5,962.56 L1463.2,962.06 L1461.81,961.66 L1460.34,961.37 L1458.81,961.2 L1457.26,961.14 L1455.71,961.2 L1454.19,961.37 L1452.72,961.66 L1451.32,962.06 L1450.03,962.56 L1448.86,963.15 L1447.84,963.82 L1446.97,964.57 L1446.29,965.38 L1445.79,966.22 L1445.48,967.1 L1445.38,968 L1445.48,968.9 L1445.79,969.78 L1446.29,970.62 L1446.97,971.43 L1447.84,972.18 L1448.86,972.85 L1450.03,973.44 L1451.32,973.94 L1452.72,974.34 L1454.19,974.63 L1455.71,974.8 L1457.26,974.86 L1458.81,974.8 L1460.34,974.63 L1461.81,974.34 L1463.2,973.94 L1464.5,973.44 L1465.66,972.85 L1466.69,972.18 L1467.55,971.43 L1468.24,970.62 L1468.74,969.78 L1469.04,968.9 L1469.14,968 L1469.04,967.1 L1468.74,966.22 L1468.24,965.38 L1467.55,964.57 L1466.69,963.82 L1465.66,963.15 Z" fill="#a39d97" stroke="#111" stroke-width="1.5"/>
<path d="M1462.89,964.75 L1462.11,964.35 L1461.24,964.02 L1460.31,963.75 L1459.32,963.56 L1458.3,963.44 L1457.26,963.4 L1456.22,963.44 L1455.2,963.56 L1454.22,963.75 L1453.28,964.02 L1452.42,964.35 L1451.63,964.75 L1450.95,965.2 L1450.37,965.7 L1449.91,966.24 L1449.57,966.81 L1449.37,967.4 L1449.3,968 L1449.37,968.6 L1449.57,969.19 L1449.91,969.76 L1450.37,970.3 L1450.95,970.8 L1451.63,971.25 L1452.42,971.65 L1453.28,971.98 L1454.22,972.25 L1455.2,972.44 L1456.22,972.56 L1457.26,972.6 L1458.3,972.56 L1459.32,972.44 L1460.31,972.25 L1461.24,971.98 L1462.11,971.65 L1462.89,971.25 L1463.58,970.8 L1464.16,970.3 L1464.62,969.76 L1464.95,969.19 L1465.16,968.6 L1465.22,968 L1465.16,967.4 L1464.95,966.81 L1464.62,966.24 L1464.16,965.7 L1463.58,965.2 L1462.89,964.75 Z" fill="#77716b" stroke="#222" stroke-width="1"/>
<path d="M1336,969 Q1332,956 1341,954 Q1350,952.5 1354,961 L1378,997 L1351,1008 Z" fill="#6e6963" stroke="#111" stroke-width="2"/>
<path d="M1354,962 L1377,996" stroke="#cfc9c1" stroke-width="0.9" stroke-dasharray="1.5,1.5"/>
<ellipse cx="1345.5" cy="968" rx="3.2" ry="6" transform="rotate(-25 1345.5 968)" fill="#fff" stroke="#111" stroke-width="1.8"/>
<path d="M1337.5,1018.5 L1396,988.5 L1398,991 L1341,1021.5 Z" fill="#2b2826" stroke="#111" stroke-width="2.2"/>
<path d="M1509.2,1094.5 L1543.2,1073.5 L1569.2,1114.5 L1533.7,1134.5 Z" fill="#e6e0d8" stroke="#111" stroke-width="2"/>
<path d="M1528.2,1085.8 L1553.7,1079.2 L1561.2,1080.5 L1567.2,1088.5 L1568.2,1097.5 L1565.2,1101.5 L1550.6,1123.8 Z" fill="#6e6963" stroke="#111" stroke-width="1.8"/>
<ellipse cx="1559" cy="1091.3" rx="8.5" ry="10.5" transform="rotate(-35 1559 1091.3)" fill="#6e6963" stroke="#111" stroke-width="1.8"/>
<ellipse cx="1559" cy="1091.3" rx="3.2" ry="6.2" transform="rotate(-30 1559 1091.3)" fill="#d8d2ca" stroke="#111" stroke-width="1.6"/>
<path d="M1727.7,968.5 L1761.7,947.5 L1787.7,988.5 L1752.2,1008.5 Z" fill="#e6e0d8" stroke="#111" stroke-width="2"/>
<path d="M1746.7,959.8 L1772.2,953.2 L1779.7,954.5 L1785.7,962.5 L1786.7,971.5 L1783.7,975.5 L1769.1,997.8 Z" fill="#6e6963" stroke="#111" stroke-width="1.8"/>
<ellipse cx="1777.5" cy="965.3" rx="8.5" ry="10.5" transform="rotate(-35 1777.5 965.3)" fill="#6e6963" stroke="#111" stroke-width="1.8"/>
<ellipse cx="1777.5" cy="965.3" rx="3.2" ry="6.2" transform="rotate(-30 1777.5 965.3)" fill="#d8d2ca" stroke="#111" stroke-width="1.6"/>
<path d="M1497.53,1346.05 L1463.76,1367.25 L1497.53,1386.75 Z" fill="#77716c" stroke="#111" stroke-width="1.2"/>
<path d="M1497.53,1346.05 L1599.72,1287.05 L1599.72,1382.75 L1497.53,1441.75 Z" fill="#524d49" stroke="#111" stroke-width="1.6"/>
<path d="M1498.53,1347.25 L1598.72,1289.45" stroke="#f4f0ea" stroke-width="1.8"/>
<path d="M1534.03,1303.3 L1633.73,1245.5 L1626.63,1266.9 L1526.03,1322.3 Z" fill="#161514" stroke="#000" stroke-width="1.6"/>
<path d="M1692.56,1233.45 L1658.79,1254.65 L1692.56,1274.15 Z" fill="#77716c" stroke="#111" stroke-width="1.2"/>
<path d="M1692.56,1233.45 L1795.01,1174.3 L1795.01,1270 L1692.56,1329.15 Z" fill="#524d49" stroke="#111" stroke-width="1.6"/>
<path d="M1693.56,1234.65 L1794.01,1176.7" stroke="#f4f0ea" stroke-width="1.8"/>
<path d="M1729.06,1190.7 L1828.76,1132.9 L1821.66,1154.3 L1721.06,1209.7 Z" fill="#161514" stroke="#000" stroke-width="1.6"/>
<path d="M1172.34,1238.5 L1172.63,1231 L1173.5,1223.89 L1174.94,1217.22 L1176.94,1211.06 L1179.48,1205.43 L1182.55,1200.39 L1186.12,1195.98 L1190.17,1192.23 L1194.66,1189.16 L1229.3,1169.16 L1234.21,1166.81 L1239.48,1165.18 L1245.09,1164.29 L1250.98,1164.15 L1257.13,1164.76 L1263.47,1166.11 L1269.96,1168.2 L1276.55,1171 L1283.19,1174.5 L1289.83,1178.67 L1296.43,1183.48 L1302.92,1188.89 L1309.26,1194.86 L1315.4,1201.34 L1321.3,1208.29 L1326.9,1215.65 L1332.18,1223.37 L1337.08,1231.39 L1341.57,1239.64 L1345.62,1248.07 L1349.19,1256.61 L1352.26,1265.19 L1354.81,1273.75 L1356.81,1282.22 L1358.24,1290.55 L1359.11,1298.66 L1359.4,1306.5 L1359.11,1314 L1358.24,1321.11 L1356.81,1327.78 L1354.81,1333.94 L1352.26,1339.57 L1349.19,1344.61 L1345.62,1349.02 L1341.57,1352.77 L1337.08,1355.84 L1302.44,1375.84 L1297.54,1378.19 L1292.26,1379.82 L1286.66,1380.71 L1280.76,1380.85 L1274.62,1380.24 L1268.28,1378.89 L1261.78,1376.8 L1255.19,1374 L1248.55,1370.5 L1241.91,1366.33 L1235.32,1361.52 L1228.83,1356.11 L1222.49,1350.14 L1216.34,1343.66 L1210.45,1336.71 L1204.84,1329.35 L1199.56,1321.63 L1194.66,1313.61 L1190.17,1305.36 L1186.12,1296.93 L1182.55,1288.39 L1179.48,1279.81 L1176.94,1271.25 L1174.94,1262.78 L1173.5,1254.45 L1172.63,1246.34 Z" fill="url(#gneck)" stroke="#111" stroke-width="1.6"/>
<path d="M1142.2,1233.1 L1142.57,1223.65 L1143.66,1214.7 L1145.47,1206.31 L1147.99,1198.55 L1151.19,1191.46 L1155.06,1185.12 L1159.56,1179.57 L1164.65,1174.84 L1170.31,1170.98 L1178.1,1166.48 L1184.27,1163.51 L1190.92,1161.46 L1197.98,1160.34 L1205.4,1160.17 L1213.13,1160.93 L1221.12,1162.64 L1229.29,1165.26 L1237.59,1168.79 L1245.95,1173.2 L1254.32,1178.45 L1262.62,1184.5 L1270.79,1191.31 L1278.77,1198.83 L1286.51,1206.99 L1293.93,1215.74 L1300.99,1225.01 L1307.63,1234.73 L1313.8,1244.83 L1319.46,1255.22 L1324.56,1265.83 L1329.05,1276.58 L1332.92,1287.38 L1336.12,1298.16 L1338.64,1308.84 L1340.45,1319.32 L1341.54,1329.53 L1341.91,1339.4 L1341.54,1348.85 L1340.45,1357.8 L1338.64,1366.19 L1336.12,1373.95 L1332.92,1381.04 L1329.05,1387.38 L1324.56,1392.93 L1319.46,1397.66 L1313.8,1401.52 L1306.01,1406.02 L1299.84,1408.99 L1293.2,1411.04 L1286.14,1412.16 L1278.71,1412.33 L1270.98,1411.57 L1262.99,1409.86 L1254.82,1407.24 L1246.52,1403.71 L1238.16,1399.3 L1229.8,1394.05 L1221.5,1388 L1213.32,1381.19 L1205.34,1373.67 L1197.61,1365.51 L1190.18,1356.76 L1183.12,1347.49 L1176.48,1337.77 L1170.31,1327.67 L1164.65,1317.28 L1159.56,1306.67 L1155.06,1295.92 L1151.19,1285.12 L1147.99,1274.34 L1145.47,1263.66 L1143.66,1253.18 L1142.57,1242.97 Z" fill="#f4f1ec" stroke="#111" stroke-width="1.6"/>
<path d="M1150,1228.6 L1150.2,1221.47 L1150.82,1214.61 L1151.84,1208.05 L1153.27,1201.81 L1155.09,1195.92 L1157.3,1190.42 L1159.89,1185.31 L1162.85,1180.62 L1166.17,1176.38 L1169.83,1172.6 L1173.81,1169.29 L1178.1,1166.48 L1182.69,1164.17 L1187.54,1162.37 L1192.64,1161.09 L1197.98,1160.34 L1203.51,1160.12 L1209.23,1160.43 L1215.11,1161.27 L1221.12,1162.64 L1227.23,1164.52 L1233.43,1166.92 L1239.68,1169.81 L1245.95,1173.2 L1252.23,1177.06 L1258.48,1181.38 L1264.67,1186.14 L1270.79,1191.31 L1276.8,1196.89 L1282.67,1202.83 L1288.39,1209.13 L1293.93,1215.74 L1299.26,1222.65 L1304.37,1229.82 L1309.22,1237.22 L1313.8,1244.83 L1318.1,1252.6 L1322.08,1260.5 L1325.74,1268.51 L1329.05,1276.58 L1332.01,1284.68 L1334.6,1292.78 L1336.82,1300.84 L1338.64,1308.84 L1340.06,1316.72 L1341.09,1324.46 L1341.7,1332.03 L1341.91,1339.4 L1341.7,1346.53 L1341.09,1353.39 L1340.06,1359.95 L1338.64,1366.19 L1336.82,1372.08 L1334.6,1377.58 L1332.01,1382.69 L1329.05,1387.38 L1325.74,1391.62 L1322.08,1395.4 L1318.1,1398.71 L1313.8,1401.52 L1309.22,1403.83 L1304.37,1405.63 L1299.26,1406.91 L1293.93,1407.66 L1288.39,1407.88 L1282.67,1407.57 L1276.8,1406.73 L1270.79,1405.36 L1264.67,1403.48 L1258.48,1401.08 L1252.23,1398.19 L1245.95,1394.8 L1239.68,1390.94 L1233.43,1386.62 L1227.23,1381.86 L1221.12,1376.69 L1215.11,1371.11 L1209.23,1365.17 L1203.51,1358.87 L1197.98,1352.26 L1192.64,1345.35 L1187.54,1338.18 L1182.69,1330.78 L1178.1,1323.17 L1173.81,1315.4 L1169.83,1307.5 L1166.17,1299.49 L1162.85,1291.42 L1159.89,1283.32 L1157.3,1275.22 L1155.09,1267.16 L1153.27,1259.16 L1151.84,1251.28 L1150.82,1243.54 L1150.2,1235.97 L1150,1228.6 Z" fill="none" stroke="#111" stroke-width="1.2"/>
<path d="M1136.83,1237 L1137.2,1227.62 L1138.28,1218.73 L1140.08,1210.4 L1142.58,1202.69 L1145.76,1195.67 L1149.6,1189.37 L1154.06,1183.85 L1159.12,1179.16 L1164.74,1175.33 L1170.8,1171.83 L1176.93,1168.88 L1183.52,1166.85 L1190.53,1165.74 L1197.9,1165.56 L1205.58,1166.32 L1213.5,1168.01 L1221.62,1170.62 L1229.86,1174.13 L1238.16,1178.5 L1246.46,1183.71 L1254.7,1189.72 L1262.81,1196.48 L1270.74,1203.94 L1278.42,1212.05 L1285.79,1220.74 L1292.8,1229.94 L1299.39,1239.59 L1305.52,1249.61 L1311.13,1259.93 L1316.19,1270.46 L1320.66,1281.13 L1324.5,1291.86 L1327.68,1302.56 L1330.18,1313.16 L1331.97,1323.56 L1333.06,1333.7 L1333.42,1343.5 L1333.06,1352.88 L1331.97,1361.77 L1330.18,1370.1 L1327.68,1377.81 L1324.5,1384.83 L1320.66,1391.13 L1316.19,1396.65 L1311.13,1401.34 L1305.52,1405.17 L1299.46,1408.67 L1293.33,1411.62 L1286.74,1413.65 L1279.73,1414.76 L1272.36,1414.94 L1264.68,1414.18 L1256.75,1412.49 L1248.64,1409.88 L1240.4,1406.37 L1232.1,1402 L1223.79,1396.79 L1215.55,1390.78 L1207.44,1384.02 L1199.51,1376.56 L1191.84,1368.45 L1184.47,1359.76 L1177.46,1350.56 L1170.86,1340.91 L1164.74,1330.89 L1159.12,1320.57 L1154.06,1310.04 L1149.6,1299.37 L1145.76,1288.64 L1142.58,1277.94 L1140.08,1267.34 L1138.28,1256.94 L1137.2,1246.8 Z" fill="#8d8780" stroke="#111" stroke-width="1.6"/>
<path d="M1136.83,1237 L1136.96,1231.32 L1137.36,1225.8 L1138.01,1220.47 L1138.92,1215.33 L1140.08,1210.4 L1141.5,1205.7 L1143.16,1201.23 L1145.07,1197.01 L1147.22,1193.06 L1149.6,1189.37 L1152.2,1185.96 L1155.03,1182.85 L1158.06,1180.03 L1161.3,1177.52 L1164.74,1175.33 L1168.35,1173.45 L1172.15,1171.9 L1176.1,1170.68 L1180.21,1169.79 L1184.47,1169.24 L1188.85,1169.02 L1193.35,1169.14 L1197.96,1169.6 L1202.66,1170.39 L1207.44,1171.51 L1212.29,1172.97 L1217.19,1174.75 L1222.14,1176.85 L1227.11,1179.27 L1232.1,1182 L1237.08,1185.03 L1242.05,1188.35 L1247,1191.96 L1251.9,1195.84 L1256.75,1199.98 L1261.53,1204.38 L1266.24,1209.02 L1270.84,1213.88 L1275.35,1218.96 L1279.73,1224.24 L1283.98,1229.7 L1288.09,1235.34 L1292.05,1241.13 L1295.84,1247.06 L1299.46,1253.11 L1302.89,1259.27 L1306.13,1265.52 L1309.17,1271.84 L1311.99,1278.22 L1314.6,1284.63 L1316.98,1291.07 L1319.12,1297.5 L1321.03,1303.93 L1322.7,1310.32 L1324.11,1316.66 L1325.28,1322.93 L1326.19,1329.12 L1326.84,1335.2 L1327.23,1341.17 L1327.36,1347 L1327.23,1352.68 L1326.84,1358.2 L1326.19,1363.53 L1325.28,1368.67 L1324.11,1373.6 L1322.7,1378.3 L1321.03,1382.77 L1319.12,1386.99 L1316.98,1390.94 L1314.6,1394.63 L1311.99,1398.04 L1309.17,1401.15 L1306.13,1403.97 L1302.89,1406.48 L1299.46,1408.67 L1295.84,1410.55 L1292.05,1412.1 L1288.09,1413.32 L1283.98,1414.21 L1279.73,1414.76 L1275.35,1414.98 L1270.84,1414.86 L1266.24,1414.4 L1261.53,1413.61 L1256.75,1412.49 L1251.9,1411.03 L1247,1409.25 L1242.05,1407.15 L1237.08,1404.73 L1232.1,1402 L1227.11,1398.97 L1222.14,1395.65 L1217.19,1392.04 L1212.29,1388.16 L1207.44,1384.02 L1202.66,1379.62 L1197.96,1374.98 L1193.35,1370.12 L1188.85,1365.04 L1184.47,1359.76 L1180.21,1354.3 L1176.1,1348.66 L1172.15,1342.87 L1168.35,1336.94 L1164.74,1330.89 L1161.3,1324.73 L1158.06,1318.48 L1155.03,1312.16 L1152.2,1305.78 L1149.6,1299.37 L1147.22,1292.93 L1145.07,1286.5 L1143.16,1280.07 L1141.5,1273.68 L1140.08,1267.34 L1138.92,1261.07 L1138.01,1254.88 L1137.36,1248.8 L1136.96,1242.83 L1136.83,1237 Z" fill="#6b6661" stroke="#111" stroke-width="1.8"/>
<ellipse cx="1146.24" cy="1229.38" rx="3" ry="4.4" transform="rotate(-30 1146.24 1229.38)" fill="#d9d4ce" stroke="#111" stroke-width="1.3"/>
<ellipse cx="1152.09" cy="1207.54" rx="3" ry="4.4" transform="rotate(-30 1152.09 1207.54)" fill="#d9d4ce" stroke="#111" stroke-width="1.3"/>
<ellipse cx="1163.39" cy="1191.46" rx="3" ry="4.4" transform="rotate(-30 1163.39 1191.46)" fill="#d9d4ce" stroke="#111" stroke-width="1.3"/>
<ellipse cx="1179.38" cy="1182.23" rx="3" ry="4.4" transform="rotate(-30 1179.38 1182.23)" fill="#d9d4ce" stroke="#111" stroke-width="1.3"/>
<ellipse cx="1198.96" cy="1180.48" rx="3" ry="4.4" transform="rotate(-30 1198.96 1180.48)" fill="#d9d4ce" stroke="#111" stroke-width="1.3"/>
<ellipse cx="1220.79" cy="1186.33" rx="3" ry="4.4" transform="rotate(-30 1220.79 1186.33)" fill="#d9d4ce" stroke="#111" stroke-width="1.3"/>
<ellipse cx="1243.4" cy="1199.38" rx="3" ry="4.4" transform="rotate(-30 1243.4 1199.38)" fill="#d9d4ce" stroke="#111" stroke-width="1.3"/>
<ellipse cx="1265.24" cy="1218.75" rx="3" ry="4.4" transform="rotate(-30 1265.24 1218.75)" fill="#d9d4ce" stroke="#111" stroke-width="1.3"/>
<ellipse cx="1284.82" cy="1243.1" rx="3" ry="4.4" transform="rotate(-30 1284.82 1243.1)" fill="#d9d4ce" stroke="#111" stroke-width="1.3"/>
<ellipse cx="1300.8" cy="1270.79" rx="3" ry="4.4" transform="rotate(-30 1300.8 1270.79)" fill="#d9d4ce" stroke="#111" stroke-width="1.3"/>
<ellipse cx="1312.11" cy="1299.93" rx="3" ry="4.4" transform="rotate(-30 1312.11 1299.93)" fill="#d9d4ce" stroke="#111" stroke-width="1.3"/>
<ellipse cx="1317.96" cy="1328.52" rx="3" ry="4.4" transform="rotate(-30 1317.96 1328.52)" fill="#d9d4ce" stroke="#111" stroke-width="1.3"/>
<ellipse cx="1317.96" cy="1354.62" rx="3" ry="4.4" transform="rotate(-30 1317.96 1354.62)" fill="#d9d4ce" stroke="#111" stroke-width="1.3"/>
<ellipse cx="1312.11" cy="1376.46" rx="3" ry="4.4" transform="rotate(-30 1312.11 1376.46)" fill="#d9d4ce" stroke="#111" stroke-width="1.3"/>
<ellipse cx="1300.8" cy="1392.54" rx="3" ry="4.4" transform="rotate(-30 1300.8 1392.54)" fill="#d9d4ce" stroke="#111" stroke-width="1.3"/>
<ellipse cx="1284.82" cy="1401.77" rx="3" ry="4.4" transform="rotate(-30 1284.82 1401.77)" fill="#d9d4ce" stroke="#111" stroke-width="1.3"/>
<ellipse cx="1265.24" cy="1403.52" rx="3" ry="4.4" transform="rotate(-30 1265.24 1403.52)" fill="#d9d4ce" stroke="#111" stroke-width="1.3"/>
<ellipse cx="1243.4" cy="1397.67" rx="3" ry="4.4" transform="rotate(-30 1243.4 1397.67)" fill="#d9d4ce" stroke="#111" stroke-width="1.3"/>
<ellipse cx="1220.79" cy="1384.62" rx="3" ry="4.4" transform="rotate(-30 1220.79 1384.62)" fill="#d9d4ce" stroke="#111" stroke-width="1.3"/>
<ellipse cx="1198.96" cy="1365.25" rx="3" ry="4.4" transform="rotate(-30 1198.96 1365.25)" fill="#d9d4ce" stroke="#111" stroke-width="1.3"/>
<ellipse cx="1179.38" cy="1340.9" rx="3" ry="4.4" transform="rotate(-30 1179.38 1340.9)" fill="#d9d4ce" stroke="#111" stroke-width="1.3"/>
<ellipse cx="1163.39" cy="1313.21" rx="3" ry="4.4" transform="rotate(-30 1163.39 1313.21)" fill="#d9d4ce" stroke="#111" stroke-width="1.3"/>
<ellipse cx="1152.09" cy="1284.07" rx="3" ry="4.4" transform="rotate(-30 1152.09 1284.07)" fill="#d9d4ce" stroke="#111" stroke-width="1.3"/>
<ellipse cx="1146.24" cy="1255.48" rx="3" ry="4.4" transform="rotate(-30 1146.24 1255.48)" fill="#d9d4ce" stroke="#111" stroke-width="1.3"/>
<path d="M1182.5,1237 Q1168,1243 1168,1256 L1168,1283 Q1170,1288 1180,1286" fill="none" stroke="#111" stroke-width="6.5" stroke-linecap="round"/>
<path d="M1182.5,1237 Q1168,1243 1168,1256 L1168,1283 Q1170,1288 1180,1286" fill="none" stroke="#d6d0c8" stroke-width="3.6" stroke-linecap="round"/>
<path d="M1280,1291 Q1265,1297 1265,1310 L1265,1338 Q1267,1343 1276,1341" fill="none" stroke="#111" stroke-width="6.5" stroke-linecap="round"/>
<path d="M1280,1291 Q1265,1297 1265,1310 L1265,1338 Q1267,1343 1276,1341" fill="none" stroke="#d6d0c8" stroke-width="3.6" stroke-linecap="round"/>
<path d="M1933,1011 Q1940,1016 1940,1026 Q1939,1033 1932,1036 Z" fill="#5a554f" stroke="#111" stroke-width="1.4"/>
<path d="M1364,1400 L1364,1404 Q1372,1409 1380,1404 L1380,1399" fill="#8a847e" stroke="#111" stroke-width="1.3"/>
</svg></body></html>
